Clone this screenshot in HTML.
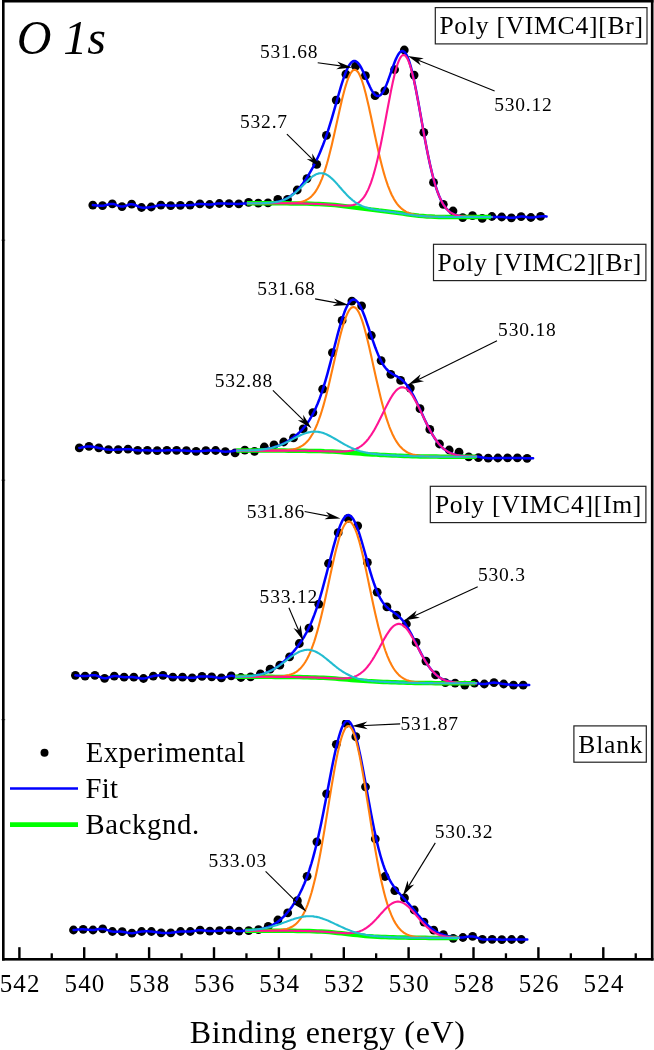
<!DOCTYPE html>
<html><head><meta charset="utf-8"><title>O 1s XPS</title><style>html,body{margin:0;padding:0;background:#fff}svg{display:block}</style></head><body>
<svg width="654" height="1050" viewBox="0 0 654 1050" font-family="'Liberation Serif', 'Times New Roman', serif" fill="#000">
<rect width="654" height="1050" fill="#fff"/>
<defs><clipPath id="c4"><rect x="0" y="719.9" width="654" height="240"/></clipPath></defs>
<g>
<g fill="#000"><circle cx="92.8" cy="205.1" r="4.4"/><circle cx="102.5" cy="205.7" r="4.4"/><circle cx="112.3" cy="203.9" r="4.4"/><circle cx="122.0" cy="206.6" r="4.4"/><circle cx="131.7" cy="204.2" r="4.4"/><circle cx="141.5" cy="207.5" r="4.4"/><circle cx="151.2" cy="207.0" r="4.4"/><circle cx="160.9" cy="205.1" r="4.4"/><circle cx="170.7" cy="205.7" r="4.4"/><circle cx="180.4" cy="205.3" r="4.4"/><circle cx="190.1" cy="205.1" r="4.4"/><circle cx="199.9" cy="203.9" r="4.4"/><circle cx="209.6" cy="204.5" r="4.4"/><circle cx="219.4" cy="203.5" r="4.4"/><circle cx="229.1" cy="203.7" r="4.4"/><circle cx="238.8" cy="203.9" r="4.4"/><circle cx="248.6" cy="202.3" r="4.4"/><circle cx="258.3" cy="203.2" r="4.4"/><circle cx="268.0" cy="202.9" r="4.4"/><circle cx="277.8" cy="199.4" r="4.4"/><circle cx="287.5" cy="199.4" r="4.4"/><circle cx="297.2" cy="190.0" r="4.4"/><circle cx="307.0" cy="178.6" r="4.4"/><circle cx="316.7" cy="164.3" r="4.4"/><circle cx="326.4" cy="135.3" r="4.4"/><circle cx="336.2" cy="100.1" r="4.4"/><circle cx="345.9" cy="74.2" r="4.4"/><circle cx="355.6" cy="66.2" r="4.4"/><circle cx="365.4" cy="75.7" r="4.4"/><circle cx="375.1" cy="95.7" r="4.4"/><circle cx="384.8" cy="90.8" r="4.4"/><circle cx="394.6" cy="69.6" r="4.4"/><circle cx="404.3" cy="50.0" r="4.4"/><circle cx="414.1" cy="75.1" r="4.4"/><circle cx="423.8" cy="132.3" r="4.4"/><circle cx="433.5" cy="182.4" r="4.4"/><circle cx="443.3" cy="204.3" r="4.4"/><circle cx="453.0" cy="211.0" r="4.4"/><circle cx="462.7" cy="217.6" r="4.4"/><circle cx="472.5" cy="215.7" r="4.4"/><circle cx="482.2" cy="218.4" r="4.4"/><circle cx="491.9" cy="216.5" r="4.4"/><circle cx="501.7" cy="217.0" r="4.4"/><circle cx="511.4" cy="217.8" r="4.4"/><circle cx="521.1" cy="216.6" r="4.4"/><circle cx="530.9" cy="217.5" r="4.4"/><circle cx="540.6" cy="216.4" r="4.4"/></g>
<path d="M92.8,205.1 L93.9,205.2 L95.3,205.3 L97.1,205.5 L98.9,205.7 L100.8,205.7 L102.5,205.7 L104.2,205.5 L105.8,205.1 L107.4,204.7 L109.0,204.3 L110.6,204.0 L112.3,203.9 L113.9,204.1 L115.5,204.7 L117.1,205.3 L118.8,205.9 L120.4,206.4 L122.0,206.6 L123.6,206.4 L125.2,206.0 L126.9,205.4 L128.5,204.8 L130.1,204.3 L131.7,204.2 L133.4,204.5 L135.0,205.0 L136.6,205.7 L138.2,206.5 L139.9,207.1 L141.5,207.5 L143.1,207.7 L144.7,207.7 L146.3,207.6 L148.0,207.4 L149.6,207.2 L151.2,207.0 L152.8,206.7 L154.5,206.4 L156.1,206.0 L157.7,205.6 L159.3,205.3 L160.9,205.1 L162.6,205.1 L164.2,205.2 L165.8,205.3 L167.4,205.5 L169.1,205.6 L170.7,205.7 L172.3,205.7 L173.9,205.6 L175.5,205.6 L177.2,205.5 L178.8,205.4 L180.4,205.3 L182.0,205.3 L183.7,205.3 L185.3,205.2 L186.9,205.2 L188.5,205.2 L190.1,205.1 L191.8,204.9 L193.4,204.7 L195.0,204.5 L196.6,204.2 L198.3,204.0 L199.9,203.9 L201.5,203.9 L203.1,204.0 L204.8,204.2 L206.4,204.3 L208.0,204.4 L209.6,204.5 L211.2,204.4 L212.9,204.2 L214.5,204.0 L216.1,203.8 L217.7,203.6 L219.4,203.5 L221.0,203.5 L222.6,203.5 L224.2,203.5 L225.8,203.6 L227.5,203.7 L229.1,203.7 L230.7,203.8 L232.4,203.8 L234.1,203.8 L235.7,203.9 L237.3,203.9 L238.8,203.9 L240.4,203.8 L241.9,203.7 L243.5,203.6 L244.9,203.5 L246.0,203.4 L246.9,203.3 L246.9,203.3 L247.9,203.3 L248.9,203.3 L249.9,203.3 L250.9,203.3 L251.9,203.3 L252.9,203.3 L253.9,203.3 L254.9,203.3 L255.9,203.3 L256.9,203.3 L257.9,203.2 L258.9,203.2 L259.9,203.2 L260.9,203.2 L261.9,203.2 L262.9,203.1 L263.9,203.1 L264.9,203.1 L265.9,203.0 L266.9,203.0 L267.9,202.9 L268.9,202.9 L269.9,202.8 L270.9,202.7 L271.9,202.6 L272.9,202.5 L273.9,202.4 L274.9,202.2 L275.9,202.1 L276.9,201.9 L277.9,201.7 L278.9,201.4 L279.9,201.2 L280.9,200.9 L281.9,200.6 L282.9,200.2 L283.9,199.8 L284.9,199.4 L285.9,198.9 L286.9,198.4 L287.9,197.8 L288.9,197.2 L289.9,196.6 L290.9,195.9 L291.9,195.1 L292.9,194.3 L293.9,193.5 L294.9,192.6 L295.9,191.6 L296.9,190.6 L297.9,189.5 L298.9,188.4 L299.9,187.2 L300.9,186.0 L301.9,184.7 L302.9,183.4 L303.9,182.0 L304.9,180.6 L305.9,179.1 L306.9,177.5 L307.9,176.0 L308.9,174.3 L309.9,172.6 L310.9,170.9 L311.9,169.1 L312.9,167.3 L313.9,165.4 L314.9,163.4 L315.9,161.4 L316.9,159.3 L317.9,157.2 L318.9,155.0 L319.9,152.7 L320.9,150.3 L321.9,147.8 L322.9,145.3 L323.9,142.6 L324.9,139.9 L325.9,137.0 L326.9,134.1 L327.9,131.1 L328.9,127.9 L329.9,124.7 L330.9,121.4 L331.9,118.1 L332.9,114.6 L333.9,111.2 L334.9,107.6 L335.9,104.1 L336.9,100.5 L337.9,97.0 L338.9,93.5 L339.9,90.1 L340.9,86.7 L341.9,83.4 L342.9,80.3 L343.9,77.4 L344.9,74.6 L345.9,72.0 L346.9,69.7 L347.9,67.5 L348.9,65.7 L349.9,64.2 L350.9,62.9 L351.9,62.0 L352.9,61.3 L353.9,61.0 L354.9,61.0 L355.9,61.4 L356.9,62.0 L357.9,62.9 L358.9,64.1 L359.9,65.5 L360.9,67.2 L361.9,69.1 L362.9,71.1 L363.9,73.2 L364.9,75.5 L365.9,77.8 L366.9,80.1 L367.9,82.4 L368.9,84.6 L369.9,86.8 L370.9,88.8 L371.9,90.6 L372.9,92.2 L373.9,93.6 L374.9,94.7 L375.9,95.5 L376.9,96.0 L377.9,96.1 L378.9,96.0 L379.9,95.5 L380.9,94.7 L381.9,93.5 L382.9,92.1 L383.9,90.3 L384.9,88.3 L385.9,86.1 L386.9,83.6 L387.9,81.0 L388.9,78.2 L389.9,75.4 L390.9,72.5 L391.9,69.6 L392.9,66.8 L393.9,64.1 L394.9,61.5 L395.9,59.1 L396.9,57.0 L397.9,55.1 L398.9,53.5 L399.9,52.3 L400.9,51.5 L401.9,51.1 L402.9,51.1 L403.9,51.6 L404.9,52.5 L405.9,53.8 L406.9,55.6 L407.9,57.9 L408.9,60.5 L409.9,63.6 L410.9,67.1 L411.9,71.0 L412.9,75.2 L413.9,79.7 L414.9,84.5 L415.9,89.5 L416.9,94.7 L417.9,100.1 L418.9,105.5 L419.9,111.1 L420.9,116.7 L421.9,122.4 L422.9,127.9 L423.9,133.5 L424.9,138.9 L425.9,144.2 L426.9,149.4 L427.9,154.4 L428.9,159.3 L429.9,163.9 L430.9,168.3 L431.9,172.5 L432.9,176.5 L433.9,180.2 L434.9,183.7 L435.9,187.0 L436.9,190.0 L437.9,192.8 L438.9,195.4 L439.9,197.7 L440.9,199.9 L441.9,201.9 L442.9,203.7 L443.9,205.3 L444.9,206.7 L445.9,208.0 L446.9,209.2 L447.9,210.2 L448.9,211.1 L449.9,212.0 L450.9,212.7 L451.9,213.3 L452.9,213.8 L453.9,214.3 L454.9,214.7 L455.9,215.1 L456.9,215.4 L457.9,215.6 L458.9,215.9 L459.9,216.0 L460.9,216.2 L461.9,216.3 L462.9,216.5 L463.9,216.6 L464.9,216.6 L465.9,216.7 L466.9,216.8 L467.9,216.8 L468.9,216.8 L469.9,216.9 L470.9,216.9 L471.9,216.9 L472.9,216.9 L473.9,216.9 L474.9,217.0 L475.9,217.0 L476.9,217.0 L477.9,217.0 L478.9,217.0 L479.9,217.0 L480.9,217.0 L481.9,217.0 L482.9,217.0 L483.9,217.0 L484.9,217.0 L485.9,217.0 L486.9,217.0 L487.9,217.0 L488.9,217.0 L489.9,217.0 L490.9,217.0 L491.9,217.0 L492.5,217.0 L492.5,217.0 L493.5,217.0 L494.9,217.0 L496.5,216.9 L498.2,216.9 L500.0,216.9 L501.7,217.0 L503.3,217.1 L504.9,217.3 L506.5,217.4 L508.1,217.6 L509.8,217.8 L511.4,217.8 L513.0,217.7 L514.6,217.4 L516.3,217.2 L517.9,216.9 L519.5,216.7 L521.1,216.6 L522.8,216.6 L524.4,216.8 L526.0,217.0 L527.6,217.3 L529.3,217.5 L530.9,217.5 L532.5,217.5 L534.3,217.3 L536.0,217.0 L537.6,216.8 L539.2,216.5 L540.6,216.4 L541.9,216.3 L543.1,216.3 L544.2,216.3 L545.2,216.3 L546.0,216.4 L546.6,216.4" fill="none" stroke="#0000ff" stroke-width="2.5" stroke-linejoin="round" stroke-linecap="round"/>
<path d="M246.9,203.3 L250.9,203.3 L254.9,203.3 L258.9,203.3 L262.9,203.3 L266.9,203.3 L270.9,203.3 L274.9,203.3 L278.9,203.3 L282.9,203.3 L286.9,203.3 L290.9,203.4 L294.9,203.4 L298.9,203.4 L302.9,203.5 L306.9,203.6 L310.9,203.7 L314.9,203.9 L318.9,204.0 L322.9,204.2 L326.9,204.5 L330.9,204.8 L334.9,205.1 L338.9,205.5 L342.9,206.0 L346.9,206.5 L350.9,207.0 L354.9,207.6 L358.9,208.1 L362.9,208.6 L366.9,209.1 L370.9,209.6 L374.9,210.0 L378.9,210.5 L382.9,210.9 L386.9,211.4 L390.9,211.9 L394.9,212.4 L398.9,213.0 L402.9,213.6 L406.9,214.2 L410.9,214.8 L414.9,215.3 L418.9,215.8 L422.9,216.1 L426.9,216.4 L430.9,216.6 L434.9,216.8 L438.9,216.9 L442.9,216.9 L446.9,217.0 L450.9,217.0 L454.9,217.0 L458.9,217.0 L462.9,217.0 L466.9,217.0 L470.9,217.0 L474.9,217.0 L478.9,217.0 L482.9,217.0 L486.9,217.0 L490.9,217.0" fill="none" stroke="#00ff00" stroke-width="4.5"/>
<path d="M246.9,203.3 L247.9,203.3 L248.9,203.3 L249.9,203.3 L250.9,203.3 L251.9,203.3 L252.9,203.3 L253.9,203.3 L254.9,203.3 L255.9,203.3 L256.9,203.3 L257.9,203.3 L258.9,203.3 L259.9,203.3 L260.9,203.3 L261.9,203.3 L262.9,203.3 L263.9,203.3 L264.9,203.3 L265.9,203.3 L266.9,203.3 L267.9,203.3 L268.9,203.3 L269.9,203.3 L270.9,203.3 L271.9,203.3 L272.9,203.3 L273.9,203.3 L274.9,203.3 L275.9,203.3 L276.9,203.3 L277.9,203.3 L278.9,203.3 L279.9,203.3 L280.9,203.3 L281.9,203.3 L282.9,203.3 L283.9,203.3 L284.9,203.3 L285.9,203.2 L286.9,203.2 L287.9,203.2 L288.9,203.2 L289.9,203.2 L290.9,203.1 L291.9,203.1 L292.9,203.0 L293.9,203.0 L294.9,202.9 L295.9,202.8 L296.9,202.7 L297.9,202.5 L298.9,202.4 L299.9,202.2 L300.9,202.0 L301.9,201.7 L302.9,201.4 L303.9,201.1 L304.9,200.7 L305.9,200.2 L306.9,199.7 L307.9,199.1 L308.9,198.5 L309.9,197.7 L310.9,196.9 L311.9,195.9 L312.9,194.8 L313.9,193.7 L314.9,192.3 L315.9,190.9 L316.9,189.3 L317.9,187.5 L318.9,185.6 L319.9,183.5 L320.9,181.2 L321.9,178.8 L322.9,176.1 L323.9,173.3 L324.9,170.3 L325.9,167.1 L326.9,163.8 L327.9,160.2 L328.9,156.5 L329.9,152.6 L330.9,148.6 L331.9,144.4 L332.9,140.1 L333.9,135.7 L334.9,131.3 L335.9,126.8 L336.9,122.2 L337.9,117.7 L338.9,113.2 L339.9,108.7 L340.9,104.4 L341.9,100.1 L342.9,96.1 L343.9,92.2 L344.9,88.5 L345.9,85.1 L346.9,82.0 L347.9,79.1 L348.9,76.7 L349.9,74.5 L350.9,72.8 L351.9,71.4 L352.9,70.4 L353.9,69.9 L354.9,69.8 L355.9,70.1 L356.9,70.8 L357.9,72.0 L358.9,73.5 L359.9,75.5 L360.9,77.8 L361.9,80.5 L362.9,83.5 L363.9,86.8 L364.9,90.5 L365.9,94.3 L366.9,98.4 L367.9,102.7 L368.9,107.1 L369.9,111.7 L370.9,116.3 L371.9,121.0 L372.9,125.8 L373.9,130.5 L374.9,135.3 L375.9,139.9 L376.9,144.5 L377.9,149.0 L378.9,153.4 L379.9,157.7 L380.9,161.8 L381.9,165.7 L382.9,169.5 L383.9,173.1 L384.9,176.5 L385.9,179.7 L386.9,182.7 L387.9,185.6 L388.9,188.2 L389.9,190.7 L390.9,193.0 L391.9,195.2 L392.9,197.1 L393.9,199.0 L394.9,200.6 L395.9,202.2 L396.9,203.6 L397.9,204.8 L398.9,206.0 L399.9,207.0 L400.9,208.0 L401.9,208.9 L402.9,209.6 L403.9,210.3 L404.9,211.0 L405.9,211.6 L406.9,212.1 L407.9,212.5 L408.9,213.0 L409.9,213.4 L410.9,213.7 L411.9,214.0 L412.9,214.3 L413.9,214.6 L414.9,214.8 L415.9,215.0 L416.9,215.2 L417.9,215.4 L418.9,215.5 L419.9,215.7 L420.9,215.8 L421.9,215.9 L422.9,216.0 L423.9,216.1 L424.9,216.2 L425.9,216.3 L426.9,216.4 L427.9,216.4 L428.9,216.5 L429.9,216.6 L430.9,216.6 L431.9,216.6 L432.9,216.7 L433.9,216.7 L434.9,216.8 L435.9,216.8 L436.9,216.8 L437.9,216.8 L438.9,216.9 L439.9,216.9 L440.9,216.9 L441.9,216.9 L442.9,216.9 L443.9,216.9 L444.9,216.9 L445.9,217.0 L446.9,217.0 L447.9,217.0 L448.9,217.0 L449.9,217.0 L450.9,217.0 L451.9,217.0 L452.9,217.0 L453.9,217.0 L454.9,217.0 L455.9,217.0 L456.9,217.0 L457.9,217.0 L458.9,217.0 L459.9,217.0 L460.9,217.0 L461.9,217.0 L462.9,217.0 L463.9,217.0 L464.9,217.0 L465.9,217.0 L466.9,217.0 L467.9,217.0 L468.9,217.0 L469.9,217.0 L470.9,217.0 L471.9,217.0 L472.9,217.0 L473.9,217.0 L474.9,217.0 L475.9,217.0 L476.9,217.0 L477.9,217.0 L478.9,217.0 L479.9,217.0 L480.9,217.0 L481.9,217.0 L482.9,217.0 L483.9,217.0 L484.9,217.0 L485.9,217.0 L486.9,217.0 L487.9,217.0 L488.9,217.0 L489.9,217.0 L490.9,217.0 L491.9,217.0 L492.5,217.0" fill="none" stroke="#ff7f0e" stroke-width="2.1"/>
<path d="M246.9,203.3 L247.9,203.3 L248.9,203.3 L249.9,203.3 L250.9,203.3 L251.9,203.3 L252.9,203.3 L253.9,203.3 L254.9,203.3 L255.9,203.3 L256.9,203.3 L257.9,203.3 L258.9,203.3 L259.9,203.3 L260.9,203.3 L261.9,203.3 L262.9,203.3 L263.9,203.3 L264.9,203.3 L265.9,203.3 L266.9,203.3 L267.9,203.3 L268.9,203.3 L269.9,203.3 L270.9,203.3 L271.9,203.3 L272.9,203.3 L273.9,203.3 L274.9,203.3 L275.9,203.3 L276.9,203.3 L277.9,203.3 L278.9,203.3 L279.9,203.3 L280.9,203.3 L281.9,203.3 L282.9,203.3 L283.9,203.3 L284.9,203.3 L285.9,203.3 L286.9,203.3 L287.9,203.3 L288.9,203.3 L289.9,203.4 L290.9,203.4 L291.9,203.4 L292.9,203.4 L293.9,203.4 L294.9,203.4 L295.9,203.4 L296.9,203.4 L297.9,203.4 L298.9,203.4 L299.9,203.5 L300.9,203.5 L301.9,203.5 L302.9,203.5 L303.9,203.5 L304.9,203.6 L305.9,203.6 L306.9,203.6 L307.9,203.6 L308.9,203.7 L309.9,203.7 L310.9,203.7 L311.9,203.8 L312.9,203.8 L313.9,203.8 L314.9,203.9 L315.9,203.9 L316.9,203.9 L317.9,204.0 L318.9,204.0 L319.9,204.1 L320.9,204.1 L321.9,204.2 L322.9,204.2 L323.9,204.3 L324.9,204.4 L325.9,204.4 L326.9,204.5 L327.9,204.5 L328.9,204.6 L329.9,204.7 L330.9,204.8 L331.9,204.8 L332.9,204.9 L333.9,205.0 L334.9,205.1 L335.9,205.1 L336.9,205.2 L337.9,205.3 L338.9,205.4 L339.9,205.4 L340.9,205.5 L341.9,205.6 L342.9,205.6 L343.9,205.7 L344.9,205.7 L345.9,205.7 L346.9,205.7 L347.9,205.7 L348.9,205.6 L349.9,205.5 L350.9,205.4 L351.9,205.2 L352.9,205.0 L353.9,204.7 L354.9,204.4 L355.9,204.0 L356.9,203.5 L357.9,203.0 L358.9,202.3 L359.9,201.5 L360.9,200.6 L361.9,199.6 L362.9,198.4 L363.9,197.1 L364.9,195.6 L365.9,194.0 L366.9,192.1 L367.9,190.1 L368.9,187.9 L369.9,185.4 L370.9,182.8 L371.9,179.9 L372.9,176.8 L373.9,173.4 L374.9,169.8 L375.9,166.0 L376.9,162.0 L377.9,157.7 L378.9,153.2 L379.9,148.6 L380.9,143.7 L381.9,138.7 L382.9,133.6 L383.9,128.4 L384.9,123.1 L385.9,117.7 L386.9,112.3 L387.9,107.0 L388.9,101.7 L389.9,96.5 L390.9,91.4 L391.9,86.5 L392.9,81.8 L393.9,77.4 L394.9,73.3 L395.9,69.5 L396.9,66.1 L397.9,63.2 L398.9,60.6 L399.9,58.5 L400.9,56.9 L401.9,55.7 L402.9,55.1 L403.9,55.0 L404.9,55.4 L405.9,56.3 L406.9,57.8 L407.9,59.7 L408.9,62.1 L409.9,64.9 L410.9,68.2 L411.9,71.9 L412.9,76.0 L413.9,80.3 L414.9,85.0 L415.9,89.9 L416.9,95.1 L417.9,100.4 L418.9,105.8 L419.9,111.3 L420.9,116.9 L421.9,122.5 L422.9,128.1 L423.9,133.6 L424.9,139.0 L425.9,144.3 L426.9,149.5 L427.9,154.5 L428.9,159.3 L429.9,163.9 L430.9,168.3 L431.9,172.5 L432.9,176.5 L433.9,180.2 L434.9,183.7 L435.9,187.0 L436.9,190.0 L437.9,192.8 L438.9,195.4 L439.9,197.7 L440.9,199.9 L441.9,201.9 L442.9,203.7 L443.9,205.3 L444.9,206.7 L445.9,208.0 L446.9,209.2 L447.9,210.2 L448.9,211.1 L449.9,212.0 L450.9,212.7 L451.9,213.3 L452.9,213.8 L453.9,214.3 L454.9,214.7 L455.9,215.1 L456.9,215.4 L457.9,215.6 L458.9,215.9 L459.9,216.0 L460.9,216.2 L461.9,216.3 L462.9,216.5 L463.9,216.6 L464.9,216.6 L465.9,216.7 L466.9,216.8 L467.9,216.8 L468.9,216.8 L469.9,216.9 L470.9,216.9 L471.9,216.9 L472.9,216.9 L473.9,216.9 L474.9,217.0 L475.9,217.0 L476.9,217.0 L477.9,217.0 L478.9,217.0 L479.9,217.0 L480.9,217.0 L481.9,217.0 L482.9,217.0 L483.9,217.0 L484.9,217.0 L485.9,217.0 L486.9,217.0 L487.9,217.0 L488.9,217.0 L489.9,217.0 L490.9,217.0 L491.9,217.0 L492.5,217.0" fill="none" stroke="#ff1493" stroke-width="2.1"/>
<path d="M246.9,203.3 L247.9,203.3 L248.9,203.3 L249.9,203.3 L250.9,203.3 L251.9,203.3 L252.9,203.3 L253.9,203.3 L254.9,203.3 L255.9,203.3 L256.9,203.3 L257.9,203.2 L258.9,203.2 L259.9,203.2 L260.9,203.2 L261.9,203.2 L262.9,203.1 L263.9,203.1 L264.9,203.1 L265.9,203.0 L266.9,203.0 L267.9,202.9 L268.9,202.9 L269.9,202.8 L270.9,202.7 L271.9,202.6 L272.9,202.5 L273.9,202.4 L274.9,202.2 L275.9,202.1 L276.9,201.9 L277.9,201.7 L278.9,201.5 L279.9,201.2 L280.9,200.9 L281.9,200.6 L282.9,200.3 L283.9,199.9 L284.9,199.5 L285.9,199.0 L286.9,198.5 L287.9,198.0 L288.9,197.4 L289.9,196.8 L290.9,196.1 L291.9,195.4 L292.9,194.7 L293.9,193.9 L294.9,193.1 L295.9,192.2 L296.9,191.3 L297.9,190.4 L298.9,189.5 L299.9,188.5 L300.9,187.5 L301.9,186.5 L302.9,185.5 L303.9,184.4 L304.9,183.4 L305.9,182.4 L306.9,181.4 L307.9,180.5 L308.9,179.5 L309.9,178.6 L310.9,177.8 L311.9,177.0 L312.9,176.2 L313.9,175.6 L314.9,175.0 L315.9,174.4 L316.9,174.0 L317.9,173.7 L318.9,173.4 L319.9,173.3 L320.9,173.2 L321.9,173.2 L322.9,173.4 L323.9,173.6 L324.9,173.9 L325.9,174.3 L326.9,174.8 L327.9,175.4 L328.9,176.1 L329.9,176.9 L330.9,177.7 L331.9,178.6 L332.9,179.5 L333.9,180.5 L334.9,181.6 L335.9,182.6 L336.9,183.7 L337.9,184.9 L338.9,186.0 L339.9,187.2 L340.9,188.3 L341.9,189.5 L342.9,190.6 L343.9,191.7 L344.9,192.8 L345.9,193.9 L346.9,195.0 L347.9,196.0 L348.9,196.9 L349.9,197.9 L350.9,198.8 L351.9,199.6 L352.9,200.5 L353.9,201.2 L354.9,202.0 L355.9,202.7 L356.9,203.3 L357.9,203.9 L358.9,204.5 L359.9,205.0 L360.9,205.5 L361.9,206.0 L362.9,206.4 L363.9,206.8 L364.9,207.2 L365.9,207.5 L366.9,207.8 L367.9,208.1 L368.9,208.4 L369.9,208.6 L370.9,208.9 L371.9,209.1 L372.9,209.3 L373.9,209.5 L374.9,209.7 L375.9,209.8 L376.9,210.0 L377.9,210.1 L378.9,210.3 L379.9,210.4 L380.9,210.6 L381.9,210.7 L382.9,210.8 L383.9,210.9 L384.9,211.1 L385.9,211.2 L386.9,211.3 L387.9,211.5 L388.9,211.6 L389.9,211.7 L390.9,211.9 L391.9,212.0 L392.9,212.1 L393.9,212.3 L394.9,212.4 L395.9,212.6 L396.9,212.7 L397.9,212.9 L398.9,213.0 L399.9,213.2 L400.9,213.3 L401.9,213.5 L402.9,213.6 L403.9,213.8 L404.9,213.9 L405.9,214.1 L406.9,214.2 L407.9,214.4 L408.9,214.5 L409.9,214.7 L410.9,214.8 L411.9,214.9 L412.9,215.1 L413.9,215.2 L414.9,215.3 L415.9,215.4 L416.9,215.6 L417.9,215.7 L418.9,215.8 L419.9,215.9 L420.9,216.0 L421.9,216.0 L422.9,216.1 L423.9,216.2 L424.9,216.3 L425.9,216.4 L426.9,216.4 L427.9,216.5 L428.9,216.5 L429.9,216.6 L430.9,216.6 L431.9,216.7 L432.9,216.7 L433.9,216.7 L434.9,216.8 L435.9,216.8 L436.9,216.8 L437.9,216.8 L438.9,216.9 L439.9,216.9 L440.9,216.9 L441.9,216.9 L442.9,216.9 L443.9,216.9 L444.9,216.9 L445.9,217.0 L446.9,217.0 L447.9,217.0 L448.9,217.0 L449.9,217.0 L450.9,217.0 L451.9,217.0 L452.9,217.0 L453.9,217.0 L454.9,217.0 L455.9,217.0 L456.9,217.0 L457.9,217.0 L458.9,217.0 L459.9,217.0 L460.9,217.0 L461.9,217.0 L462.9,217.0 L463.9,217.0 L464.9,217.0 L465.9,217.0 L466.9,217.0 L467.9,217.0 L468.9,217.0 L469.9,217.0 L470.9,217.0 L471.9,217.0 L472.9,217.0 L473.9,217.0 L474.9,217.0 L475.9,217.0 L476.9,217.0 L477.9,217.0 L478.9,217.0 L479.9,217.0 L480.9,217.0 L481.9,217.0 L482.9,217.0 L483.9,217.0 L484.9,217.0 L485.9,217.0 L486.9,217.0 L487.9,217.0 L488.9,217.0 L489.9,217.0 L490.9,217.0 L491.9,217.0 L492.5,217.0" fill="none" stroke="#22bcd0" stroke-width="2.1"/>
</g>
<g>
<g fill="#000"><circle cx="79.3" cy="447.9" r="4.4"/><circle cx="89.0" cy="446.4" r="4.4"/><circle cx="98.8" cy="447.9" r="4.4"/><circle cx="108.5" cy="449.6" r="4.4"/><circle cx="118.2" cy="449.6" r="4.4"/><circle cx="128.0" cy="449.2" r="4.4"/><circle cx="137.7" cy="450.3" r="4.4"/><circle cx="147.4" cy="450.3" r="4.4"/><circle cx="157.2" cy="450.7" r="4.4"/><circle cx="166.9" cy="450.3" r="4.4"/><circle cx="176.6" cy="450.3" r="4.4"/><circle cx="186.4" cy="450.7" r="4.4"/><circle cx="196.1" cy="451.3" r="4.4"/><circle cx="205.9" cy="450.7" r="4.4"/><circle cx="215.6" cy="450.5" r="4.4"/><circle cx="225.3" cy="451.7" r="4.4"/><circle cx="235.1" cy="452.9" r="4.4"/><circle cx="244.8" cy="450.1" r="4.4"/><circle cx="254.5" cy="451.3" r="4.4"/><circle cx="264.3" cy="447.0" r="4.4"/><circle cx="274.0" cy="444.8" r="4.4"/><circle cx="283.7" cy="442.0" r="4.4"/><circle cx="293.5" cy="437.9" r="4.4"/><circle cx="303.2" cy="428.8" r="4.4"/><circle cx="312.9" cy="412.6" r="4.4"/><circle cx="322.7" cy="389.2" r="4.4"/><circle cx="332.4" cy="352.6" r="4.4"/><circle cx="342.1" cy="320.4" r="4.4"/><circle cx="351.9" cy="301.1" r="4.4"/><circle cx="361.6" cy="305.8" r="4.4"/><circle cx="371.3" cy="335.5" r="4.4"/><circle cx="381.1" cy="360.6" r="4.4"/><circle cx="390.8" cy="374.3" r="4.4"/><circle cx="400.6" cy="380.4" r="4.4"/><circle cx="410.3" cy="388.1" r="4.4"/><circle cx="420.0" cy="408.7" r="4.4"/><circle cx="429.8" cy="429.4" r="4.4"/><circle cx="439.5" cy="444.0" r="4.4"/><circle cx="449.2" cy="450.0" r="4.4"/><circle cx="459.0" cy="452.2" r="4.4"/><circle cx="468.7" cy="456.9" r="4.4"/><circle cx="478.4" cy="457.7" r="4.4"/><circle cx="488.2" cy="458.2" r="4.4"/><circle cx="497.9" cy="458.0" r="4.4"/><circle cx="507.6" cy="457.9" r="4.4"/><circle cx="517.4" cy="457.9" r="4.4"/><circle cx="527.1" cy="458.3" r="4.4"/></g>
<path d="M79.3,447.9 L80.4,447.7 L81.8,447.4 L83.6,447.1 L85.4,446.7 L87.3,446.5 L89.0,446.4 L90.7,446.5 L92.3,446.7 L93.9,446.9 L95.5,447.3 L97.1,447.6 L98.8,447.9 L100.4,448.2 L102.0,448.5 L103.6,448.8 L105.3,449.2 L106.9,449.4 L108.5,449.6 L110.1,449.7 L111.8,449.7 L113.4,449.7 L115.0,449.7 L116.6,449.6 L118.2,449.6 L119.9,449.5 L121.5,449.4 L123.1,449.3 L124.7,449.2 L126.4,449.2 L128.0,449.2 L129.6,449.3 L131.2,449.5 L132.8,449.7 L134.5,450.0 L136.1,450.2 L137.7,450.3 L139.3,450.4 L141.0,450.4 L142.6,450.3 L144.2,450.3 L145.8,450.3 L147.4,450.3 L149.1,450.4 L150.7,450.4 L152.3,450.5 L153.9,450.6 L155.6,450.7 L157.2,450.7 L158.8,450.7 L160.4,450.6 L162.0,450.5 L163.7,450.4 L165.3,450.4 L166.9,450.3 L168.5,450.3 L170.2,450.3 L171.8,450.3 L173.4,450.3 L175.0,450.3 L176.6,450.3 L178.3,450.3 L179.9,450.4 L181.5,450.5 L183.1,450.5 L184.8,450.6 L186.4,450.7 L188.0,450.8 L189.6,450.9 L191.3,451.1 L192.9,451.2 L194.5,451.3 L196.1,451.3 L197.7,451.3 L199.4,451.2 L201.0,451.1 L202.6,450.9 L204.2,450.8 L205.9,450.7 L207.5,450.6 L209.1,450.5 L210.7,450.5 L212.3,450.4 L214.0,450.4 L215.6,450.5 L217.2,450.6 L218.8,450.8 L220.4,451.1 L222.0,451.4 L223.6,451.6 L225.3,451.7 L227.2,451.6 L229.3,451.4 L231.5,451.2 L233.5,450.9 L235.2,450.7 L236.4,450.6 L236.4,450.6 L237.4,450.6 L238.4,450.6 L239.4,450.5 L240.4,450.5 L241.4,450.5 L242.4,450.5 L243.4,450.5 L244.4,450.5 L245.4,450.5 L246.4,450.5 L247.4,450.4 L248.4,450.4 L249.4,450.4 L250.4,450.3 L251.4,450.3 L252.4,450.3 L253.4,450.2 L254.4,450.2 L255.4,450.1 L256.4,450.1 L257.4,450.0 L258.4,449.9 L259.4,449.8 L260.4,449.7 L261.4,449.6 L262.4,449.5 L263.4,449.4 L264.4,449.3 L265.4,449.1 L266.4,448.9 L267.4,448.8 L268.4,448.6 L269.4,448.4 L270.4,448.2 L271.4,447.9 L272.4,447.7 L273.4,447.4 L274.4,447.1 L275.4,446.8 L276.4,446.5 L277.4,446.1 L278.4,445.7 L279.4,445.3 L280.4,444.9 L281.4,444.5 L282.4,444.0 L283.4,443.6 L284.4,443.0 L285.4,442.5 L286.4,442.0 L287.4,441.4 L288.4,440.8 L289.4,440.2 L290.4,439.5 L291.4,438.8 L292.4,438.1 L293.4,437.4 L294.4,436.6 L295.4,435.8 L296.4,435.0 L297.4,434.2 L298.4,433.3 L299.4,432.3 L300.4,431.3 L301.4,430.3 L302.4,429.3 L303.4,428.1 L304.4,427.0 L305.4,425.7 L306.4,424.4 L307.4,423.0 L308.4,421.6 L309.4,420.1 L310.4,418.4 L311.4,416.7 L312.4,414.9 L313.4,413.0 L314.4,411.0 L315.4,408.9 L316.4,406.6 L317.4,404.3 L318.4,401.8 L319.4,399.2 L320.4,396.4 L321.4,393.6 L322.4,390.6 L323.4,387.5 L324.4,384.2 L325.4,380.9 L326.4,377.4 L327.4,373.8 L328.4,370.2 L329.4,366.4 L330.4,362.6 L331.4,358.7 L332.4,354.8 L333.4,350.9 L334.4,347.0 L335.4,343.1 L336.4,339.2 L337.4,335.4 L338.4,331.7 L339.4,328.1 L340.4,324.6 L341.4,321.2 L342.4,318.0 L343.4,315.1 L344.4,312.3 L345.4,309.8 L346.4,307.5 L347.4,305.4 L348.4,303.7 L349.4,302.3 L350.4,301.1 L351.4,300.3 L352.4,299.8 L353.4,299.6 L354.4,299.7 L355.4,300.1 L356.4,300.8 L357.4,301.8 L358.4,303.1 L359.4,304.7 L360.4,306.5 L361.4,308.5 L362.4,310.8 L363.4,313.2 L364.4,315.8 L365.4,318.5 L366.4,321.3 L367.4,324.3 L368.4,327.2 L369.4,330.3 L370.4,333.3 L371.4,336.3 L372.4,339.3 L373.4,342.2 L374.4,345.0 L375.4,347.8 L376.4,350.4 L377.4,352.9 L378.4,355.3 L379.4,357.5 L380.4,359.6 L381.4,361.6 L382.4,363.3 L383.4,365.0 L384.4,366.4 L385.4,367.8 L386.4,369.0 L387.4,370.0 L388.4,371.0 L389.4,371.9 L390.4,372.6 L391.4,373.3 L392.4,373.9 L393.4,374.5 L394.4,375.1 L395.4,375.6 L396.4,376.2 L397.4,376.7 L398.4,377.3 L399.4,378.0 L400.4,378.7 L401.4,379.4 L402.4,380.3 L403.4,381.2 L404.4,382.2 L405.4,383.3 L406.4,384.5 L407.4,385.8 L408.4,387.2 L409.4,388.7 L410.4,390.3 L411.4,392.0 L412.4,393.8 L413.4,395.6 L414.4,397.6 L415.4,399.5 L416.4,401.6 L417.4,403.7 L418.4,405.8 L419.4,408.0 L420.4,410.2 L421.4,412.3 L422.4,414.5 L423.4,416.7 L424.4,418.9 L425.4,421.0 L426.4,423.1 L427.4,425.1 L428.4,427.1 L429.4,429.0 L430.4,430.9 L431.4,432.7 L432.4,434.5 L433.4,436.1 L434.4,437.7 L435.4,439.2 L436.4,440.6 L437.4,442.0 L438.4,443.3 L439.4,444.5 L440.4,445.6 L441.4,446.6 L442.4,447.6 L443.4,448.5 L444.4,449.3 L445.4,450.0 L446.4,450.7 L447.4,451.4 L448.4,452.0 L449.4,452.5 L450.4,453.0 L451.4,453.4 L452.4,453.8 L453.4,454.1 L454.4,454.5 L455.4,454.7 L456.4,455.0 L457.4,455.2 L458.4,455.4 L459.4,455.6 L460.4,455.7 L461.4,455.9 L462.4,456.0 L463.4,456.1 L464.4,456.2 L465.4,456.3 L466.4,456.3 L467.4,456.4 L468.4,456.4 L469.4,456.5 L470.4,456.5 L471.4,456.5 L472.4,456.6 L473.4,456.6 L474.4,456.6 L475.4,456.6 L476.4,456.6 L477.1,456.6 L477.1,456.6 L478.3,456.8 L480.0,457.1 L482.0,457.4 L484.2,457.8 L486.3,458.0 L488.2,458.2 L489.9,458.3 L491.5,458.3 L493.1,458.2 L494.7,458.1 L496.3,458.1 L497.9,458.0 L499.5,458.0 L501.1,457.9 L502.8,457.9 L504.4,457.9 L506.0,457.9 L507.6,457.9 L509.3,457.9 L510.9,457.9 L512.5,457.9 L514.1,457.9 L515.8,457.9 L517.4,457.9 L519.0,458.0 L520.8,458.0 L522.5,458.1 L524.1,458.2 L525.7,458.2 L527.1,458.3 L528.4,458.3 L529.6,458.3 L530.7,458.3 L531.7,458.3 L532.5,458.3 L533.1,458.3" fill="none" stroke="#0000ff" stroke-width="2.5" stroke-linejoin="round" stroke-linecap="round"/>
<path d="M236.4,450.6 L240.4,450.6 L244.4,450.6 L248.4,450.6 L252.4,450.6 L256.4,450.6 L260.4,450.6 L264.4,450.6 L268.4,450.6 L272.4,450.6 L276.4,450.6 L280.4,450.6 L284.4,450.6 L288.4,450.7 L292.4,450.7 L296.4,450.7 L300.4,450.8 L304.4,450.8 L308.4,450.9 L312.4,450.9 L316.4,451.0 L320.4,451.1 L324.4,451.3 L328.4,451.4 L332.4,451.6 L336.4,451.8 L340.4,452.1 L344.4,452.4 L348.4,452.7 L352.4,453.0 L356.4,453.3 L360.4,453.6 L364.4,453.9 L368.4,454.2 L372.4,454.4 L376.4,454.6 L380.4,454.9 L384.4,455.0 L388.4,455.2 L392.4,455.4 L396.4,455.6 L400.4,455.7 L404.4,455.9 L408.4,456.0 L412.4,456.2 L416.4,456.3 L420.4,456.4 L424.4,456.5 L428.4,456.5 L432.4,456.6 L436.4,456.6 L440.4,456.7 L444.4,456.7 L448.4,456.7 L452.4,456.7 L456.4,456.7 L460.4,456.7 L464.4,456.7 L468.4,456.7 L472.4,456.7 L476.4,456.7" fill="none" stroke="#00ff00" stroke-width="4.5"/>
<path d="M236.4,450.6 L237.4,450.6 L238.4,450.6 L239.4,450.6 L240.4,450.6 L241.4,450.6 L242.4,450.6 L243.4,450.6 L244.4,450.6 L245.4,450.6 L246.4,450.6 L247.4,450.6 L248.4,450.6 L249.4,450.6 L250.4,450.6 L251.4,450.6 L252.4,450.6 L253.4,450.6 L254.4,450.6 L255.4,450.6 L256.4,450.6 L257.4,450.6 L258.4,450.6 L259.4,450.6 L260.4,450.6 L261.4,450.6 L262.4,450.6 L263.4,450.6 L264.4,450.6 L265.4,450.6 L266.4,450.6 L267.4,450.6 L268.4,450.6 L269.4,450.6 L270.4,450.6 L271.4,450.6 L272.4,450.6 L273.4,450.6 L274.4,450.6 L275.4,450.6 L276.4,450.5 L277.4,450.5 L278.4,450.5 L279.4,450.5 L280.4,450.5 L281.4,450.4 L282.4,450.4 L283.4,450.4 L284.4,450.3 L285.4,450.3 L286.4,450.2 L287.4,450.1 L288.4,450.0 L289.4,449.9 L290.4,449.8 L291.4,449.6 L292.4,449.5 L293.4,449.3 L294.4,449.0 L295.4,448.8 L296.4,448.5 L297.4,448.1 L298.4,447.7 L299.4,447.3 L300.4,446.8 L301.4,446.2 L302.4,445.6 L303.4,444.9 L304.4,444.1 L305.4,443.3 L306.4,442.3 L307.4,441.2 L308.4,440.1 L309.4,438.8 L310.4,437.4 L311.4,435.8 L312.4,434.2 L313.4,432.4 L314.4,430.4 L315.4,428.3 L316.4,426.0 L317.4,423.6 L318.4,421.0 L319.4,418.2 L320.4,415.3 L321.4,412.2 L322.4,409.0 L323.4,405.6 L324.4,402.0 L325.4,398.3 L326.4,394.5 L327.4,390.5 L328.4,386.4 L329.4,382.2 L330.4,378.0 L331.4,373.6 L332.4,369.3 L333.4,364.8 L334.4,360.4 L335.4,356.0 L336.4,351.7 L337.4,347.4 L338.4,343.2 L339.4,339.1 L340.4,335.1 L341.4,331.3 L342.4,327.7 L343.4,324.4 L344.4,321.2 L345.4,318.4 L346.4,315.8 L347.4,313.5 L348.4,311.5 L349.4,309.9 L350.4,308.6 L351.4,307.7 L352.4,307.2 L353.4,307.0 L354.4,307.2 L355.4,307.7 L356.4,308.7 L357.4,310.0 L358.4,311.6 L359.4,313.6 L360.4,315.9 L361.4,318.5 L362.4,321.4 L363.4,324.6 L364.4,328.0 L365.4,331.7 L366.4,335.5 L367.4,339.5 L368.4,343.7 L369.4,348.0 L370.4,352.4 L371.4,356.8 L372.4,361.4 L373.4,365.9 L374.4,370.4 L375.4,374.9 L376.4,379.4 L377.4,383.8 L378.4,388.1 L379.4,392.3 L380.4,396.4 L381.4,400.4 L382.4,404.2 L383.4,407.9 L384.4,411.5 L385.4,414.9 L386.4,418.1 L387.4,421.2 L388.4,424.0 L389.4,426.8 L390.4,429.3 L391.4,431.7 L392.4,434.0 L393.4,436.1 L394.4,438.0 L395.4,439.8 L396.4,441.4 L397.4,443.0 L398.4,444.3 L399.4,445.6 L400.4,446.8 L401.4,447.8 L402.4,448.8 L403.4,449.7 L404.4,450.4 L405.4,451.1 L406.4,451.8 L407.4,452.3 L408.4,452.9 L409.4,453.3 L410.4,453.7 L411.4,454.1 L412.4,454.4 L413.4,454.7 L414.4,454.9 L415.4,455.1 L416.4,455.3 L417.4,455.5 L418.4,455.6 L419.4,455.8 L420.4,455.9 L421.4,456.0 L422.4,456.1 L423.4,456.2 L424.4,456.2 L425.4,456.3 L426.4,456.3 L427.4,456.4 L428.4,456.4 L429.4,456.5 L430.4,456.5 L431.4,456.5 L432.4,456.5 L433.4,456.6 L434.4,456.6 L435.4,456.6 L436.4,456.6 L437.4,456.6 L438.4,456.6 L439.4,456.6 L440.4,456.6 L441.4,456.7 L442.4,456.7 L443.4,456.7 L444.4,456.7 L445.4,456.7 L446.4,456.7 L447.4,456.7 L448.4,456.7 L449.4,456.7 L450.4,456.7 L451.4,456.7 L452.4,456.7 L453.4,456.7 L454.4,456.7 L455.4,456.7 L456.4,456.7 L457.4,456.7 L458.4,456.7 L459.4,456.7 L460.4,456.7 L461.4,456.7 L462.4,456.7 L463.4,456.7 L464.4,456.7 L465.4,456.7 L466.4,456.7 L467.4,456.7 L468.4,456.7 L469.4,456.7 L470.4,456.7 L471.4,456.7 L472.4,456.7 L473.4,456.7 L474.4,456.7 L475.4,456.7 L476.4,456.7 L477.1,456.7" fill="none" stroke="#ff7f0e" stroke-width="2.1"/>
<path d="M236.4,450.6 L237.4,450.6 L238.4,450.6 L239.4,450.6 L240.4,450.6 L241.4,450.6 L242.4,450.6 L243.4,450.6 L244.4,450.6 L245.4,450.6 L246.4,450.6 L247.4,450.6 L248.4,450.6 L249.4,450.6 L250.4,450.6 L251.4,450.6 L252.4,450.6 L253.4,450.6 L254.4,450.6 L255.4,450.6 L256.4,450.6 L257.4,450.6 L258.4,450.6 L259.4,450.6 L260.4,450.6 L261.4,450.6 L262.4,450.6 L263.4,450.6 L264.4,450.6 L265.4,450.6 L266.4,450.6 L267.4,450.6 L268.4,450.6 L269.4,450.6 L270.4,450.6 L271.4,450.6 L272.4,450.6 L273.4,450.6 L274.4,450.6 L275.4,450.6 L276.4,450.6 L277.4,450.6 L278.4,450.6 L279.4,450.6 L280.4,450.6 L281.4,450.6 L282.4,450.6 L283.4,450.6 L284.4,450.6 L285.4,450.7 L286.4,450.7 L287.4,450.7 L288.4,450.7 L289.4,450.7 L290.4,450.7 L291.4,450.7 L292.4,450.7 L293.4,450.7 L294.4,450.7 L295.4,450.7 L296.4,450.7 L297.4,450.7 L298.4,450.7 L299.4,450.7 L300.4,450.8 L301.4,450.8 L302.4,450.8 L303.4,450.8 L304.4,450.8 L305.4,450.8 L306.4,450.8 L307.4,450.8 L308.4,450.9 L309.4,450.9 L310.4,450.9 L311.4,450.9 L312.4,450.9 L313.4,450.9 L314.4,451.0 L315.4,451.0 L316.4,451.0 L317.4,451.0 L318.4,451.1 L319.4,451.1 L320.4,451.1 L321.4,451.1 L322.4,451.2 L323.4,451.2 L324.4,451.2 L325.4,451.3 L326.4,451.3 L327.4,451.3 L328.4,451.3 L329.4,451.4 L330.4,451.4 L331.4,451.4 L332.4,451.5 L333.4,451.5 L334.4,451.5 L335.4,451.5 L336.4,451.6 L337.4,451.6 L338.4,451.6 L339.4,451.6 L340.4,451.6 L341.4,451.6 L342.4,451.5 L343.4,451.5 L344.4,451.4 L345.4,451.4 L346.4,451.3 L347.4,451.2 L348.4,451.0 L349.4,450.9 L350.4,450.7 L351.4,450.5 L352.4,450.2 L353.4,449.9 L354.4,449.6 L355.4,449.2 L356.4,448.8 L357.4,448.3 L358.4,447.8 L359.4,447.2 L360.4,446.5 L361.4,445.8 L362.4,445.0 L363.4,444.2 L364.4,443.2 L365.4,442.2 L366.4,441.2 L367.4,440.0 L368.4,438.8 L369.4,437.4 L370.4,436.0 L371.4,434.6 L372.4,433.0 L373.4,431.4 L374.4,429.7 L375.4,427.9 L376.4,426.1 L377.4,424.2 L378.4,422.3 L379.4,420.3 L380.4,418.3 L381.4,416.3 L382.4,414.2 L383.4,412.2 L384.4,410.1 L385.4,408.1 L386.4,406.1 L387.4,404.2 L388.4,402.2 L389.4,400.4 L390.4,398.6 L391.4,397.0 L392.4,395.4 L393.4,393.9 L394.4,392.6 L395.4,391.4 L396.4,390.3 L397.4,389.4 L398.4,388.7 L399.4,388.1 L400.4,387.6 L401.4,387.4 L402.4,387.3 L403.4,387.4 L404.4,387.7 L405.4,388.1 L406.4,388.7 L407.4,389.5 L408.4,390.4 L409.4,391.5 L410.4,392.7 L411.4,394.1 L412.4,395.5 L413.4,397.2 L414.4,398.9 L415.4,400.7 L416.4,402.5 L417.4,404.5 L418.4,406.5 L419.4,408.6 L420.4,410.6 L421.4,412.8 L422.4,414.9 L423.4,417.0 L424.4,419.1 L425.4,421.2 L426.4,423.2 L427.4,425.3 L428.4,427.2 L429.4,429.1 L430.4,431.0 L431.4,432.8 L432.4,434.5 L433.4,436.2 L434.4,437.7 L435.4,439.2 L436.4,440.7 L437.4,442.0 L438.4,443.3 L439.4,444.5 L440.4,445.6 L441.4,446.6 L442.4,447.6 L443.4,448.5 L444.4,449.3 L445.4,450.1 L446.4,450.7 L447.4,451.4 L448.4,452.0 L449.4,452.5 L450.4,453.0 L451.4,453.4 L452.4,453.8 L453.4,454.1 L454.4,454.5 L455.4,454.7 L456.4,455.0 L457.4,455.2 L458.4,455.4 L459.4,455.6 L460.4,455.7 L461.4,455.9 L462.4,456.0 L463.4,456.1 L464.4,456.2 L465.4,456.3 L466.4,456.3 L467.4,456.4 L468.4,456.4 L469.4,456.5 L470.4,456.5 L471.4,456.5 L472.4,456.6 L473.4,456.6 L474.4,456.6 L475.4,456.6 L476.4,456.6 L477.1,456.6" fill="none" stroke="#ff1493" stroke-width="2.1"/>
<path d="M236.4,450.6 L237.4,450.6 L238.4,450.6 L239.4,450.5 L240.4,450.5 L241.4,450.5 L242.4,450.5 L243.4,450.5 L244.4,450.5 L245.4,450.5 L246.4,450.5 L247.4,450.4 L248.4,450.4 L249.4,450.4 L250.4,450.3 L251.4,450.3 L252.4,450.3 L253.4,450.2 L254.4,450.2 L255.4,450.1 L256.4,450.1 L257.4,450.0 L258.4,449.9 L259.4,449.8 L260.4,449.7 L261.4,449.6 L262.4,449.5 L263.4,449.4 L264.4,449.3 L265.4,449.1 L266.4,449.0 L267.4,448.8 L268.4,448.6 L269.4,448.4 L270.4,448.2 L271.4,447.9 L272.4,447.7 L273.4,447.4 L274.4,447.1 L275.4,446.8 L276.4,446.5 L277.4,446.2 L278.4,445.8 L279.4,445.5 L280.4,445.1 L281.4,444.7 L282.4,444.3 L283.4,443.8 L284.4,443.4 L285.4,442.9 L286.4,442.4 L287.4,441.9 L288.4,441.4 L289.4,440.9 L290.4,440.4 L291.4,439.9 L292.4,439.4 L293.4,438.8 L294.4,438.3 L295.4,437.8 L296.4,437.3 L297.4,436.8 L298.4,436.3 L299.4,435.8 L300.4,435.3 L301.4,434.8 L302.4,434.4 L303.4,434.0 L304.4,433.6 L305.4,433.3 L306.4,432.9 L307.4,432.6 L308.4,432.4 L309.4,432.2 L310.4,432.0 L311.4,431.8 L312.4,431.7 L313.4,431.6 L314.4,431.6 L315.4,431.6 L316.4,431.7 L317.4,431.7 L318.4,431.9 L319.4,432.1 L320.4,432.3 L321.4,432.5 L322.4,432.8 L323.4,433.1 L324.4,433.5 L325.4,433.9 L326.4,434.3 L327.4,434.7 L328.4,435.2 L329.4,435.7 L330.4,436.2 L331.4,436.8 L332.4,437.3 L333.4,437.9 L334.4,438.5 L335.4,439.0 L336.4,439.6 L337.4,440.2 L338.4,440.8 L339.4,441.4 L340.4,442.0 L341.4,442.6 L342.4,443.2 L343.4,443.8 L344.4,444.3 L345.4,444.9 L346.4,445.4 L347.4,445.9 L348.4,446.5 L349.4,446.9 L350.4,447.4 L351.4,447.9 L352.4,448.3 L353.4,448.8 L354.4,449.2 L355.4,449.6 L356.4,449.9 L357.4,450.3 L358.4,450.6 L359.4,451.0 L360.4,451.3 L361.4,451.5 L362.4,451.8 L363.4,452.1 L364.4,452.3 L365.4,452.5 L366.4,452.7 L367.4,452.9 L368.4,453.1 L369.4,453.3 L370.4,453.5 L371.4,453.6 L372.4,453.8 L373.4,453.9 L374.4,454.0 L375.4,454.1 L376.4,454.2 L377.4,454.3 L378.4,454.4 L379.4,454.5 L380.4,454.6 L381.4,454.7 L382.4,454.8 L383.4,454.8 L384.4,454.9 L385.4,455.0 L386.4,455.0 L387.4,455.1 L388.4,455.1 L389.4,455.2 L390.4,455.3 L391.4,455.3 L392.4,455.4 L393.4,455.4 L394.4,455.4 L395.4,455.5 L396.4,455.5 L397.4,455.6 L398.4,455.6 L399.4,455.7 L400.4,455.7 L401.4,455.8 L402.4,455.8 L403.4,455.8 L404.4,455.9 L405.4,455.9 L406.4,456.0 L407.4,456.0 L408.4,456.0 L409.4,456.1 L410.4,456.1 L411.4,456.1 L412.4,456.2 L413.4,456.2 L414.4,456.2 L415.4,456.3 L416.4,456.3 L417.4,456.3 L418.4,456.3 L419.4,456.4 L420.4,456.4 L421.4,456.4 L422.4,456.4 L423.4,456.4 L424.4,456.5 L425.4,456.5 L426.4,456.5 L427.4,456.5 L428.4,456.5 L429.4,456.6 L430.4,456.6 L431.4,456.6 L432.4,456.6 L433.4,456.6 L434.4,456.6 L435.4,456.6 L436.4,456.6 L437.4,456.6 L438.4,456.6 L439.4,456.6 L440.4,456.7 L441.4,456.7 L442.4,456.7 L443.4,456.7 L444.4,456.7 L445.4,456.7 L446.4,456.7 L447.4,456.7 L448.4,456.7 L449.4,456.7 L450.4,456.7 L451.4,456.7 L452.4,456.7 L453.4,456.7 L454.4,456.7 L455.4,456.7 L456.4,456.7 L457.4,456.7 L458.4,456.7 L459.4,456.7 L460.4,456.7 L461.4,456.7 L462.4,456.7 L463.4,456.7 L464.4,456.7 L465.4,456.7 L466.4,456.7 L467.4,456.7 L468.4,456.7 L469.4,456.7 L470.4,456.7 L471.4,456.7 L472.4,456.7 L473.4,456.7 L474.4,456.7 L475.4,456.7 L476.4,456.7 L477.1,456.7" fill="none" stroke="#22bcd0" stroke-width="2.1"/>
</g>
<g>
<g fill="#000"><circle cx="75.4" cy="675.3" r="4.4"/><circle cx="85.1" cy="676.1" r="4.4"/><circle cx="94.9" cy="675.3" r="4.4"/><circle cx="104.6" cy="678.3" r="4.4"/><circle cx="114.3" cy="676.1" r="4.4"/><circle cx="124.1" cy="677.2" r="4.4"/><circle cx="133.8" cy="677.2" r="4.4"/><circle cx="143.5" cy="678.5" r="4.4"/><circle cx="153.3" cy="676.1" r="4.4"/><circle cx="163.0" cy="675.3" r="4.4"/><circle cx="172.8" cy="677.2" r="4.4"/><circle cx="182.5" cy="677.2" r="4.4"/><circle cx="192.2" cy="677.8" r="4.4"/><circle cx="202.0" cy="676.4" r="4.4"/><circle cx="211.7" cy="676.8" r="4.4"/><circle cx="221.4" cy="677.9" r="4.4"/><circle cx="231.2" cy="675.8" r="4.4"/><circle cx="240.9" cy="677.5" r="4.4"/><circle cx="250.6" cy="676.8" r="4.4"/><circle cx="260.4" cy="673.8" r="4.4"/><circle cx="270.1" cy="669.2" r="4.4"/><circle cx="279.8" cy="665.2" r="4.4"/><circle cx="289.6" cy="656.8" r="4.4"/><circle cx="299.3" cy="643.5" r="4.4"/><circle cx="309.0" cy="628.2" r="4.4"/><circle cx="318.8" cy="604.2" r="4.4"/><circle cx="328.5" cy="563.5" r="4.4"/><circle cx="338.2" cy="532.7" r="4.4"/><circle cx="348.0" cy="518.4" r="4.4"/><circle cx="357.7" cy="525.8" r="4.4"/><circle cx="367.4" cy="562.4" r="4.4"/><circle cx="377.2" cy="592.2" r="4.4"/><circle cx="386.9" cy="606.9" r="4.4"/><circle cx="396.7" cy="615.1" r="4.4"/><circle cx="406.4" cy="624.0" r="4.4"/><circle cx="416.1" cy="642.4" r="4.4"/><circle cx="425.9" cy="661.1" r="4.4"/><circle cx="435.6" cy="674.9" r="4.4"/><circle cx="445.3" cy="682.6" r="4.4"/><circle cx="455.1" cy="683.1" r="4.4"/><circle cx="464.8" cy="685.1" r="4.4"/><circle cx="474.5" cy="683.1" r="4.4"/><circle cx="484.3" cy="684.0" r="4.4"/><circle cx="494.0" cy="682.6" r="4.4"/><circle cx="503.7" cy="684.0" r="4.4"/><circle cx="513.5" cy="685.1" r="4.4"/><circle cx="523.2" cy="685.1" r="4.4"/></g>
<path d="M75.4,675.3 L76.5,675.4 L77.9,675.6 L79.7,675.8 L81.5,675.9 L83.4,676.0 L85.1,676.1 L86.8,676.0 L88.4,675.8 L90.0,675.6 L91.6,675.3 L93.2,675.2 L94.9,675.3 L96.5,675.6 L98.1,676.2 L99.7,676.9 L101.4,677.5 L103.0,678.1 L104.6,678.3 L106.2,678.2 L107.9,677.8 L109.5,677.3 L111.1,676.8 L112.7,676.3 L114.3,676.1 L116.0,676.1 L117.6,676.3 L119.2,676.5 L120.8,676.8 L122.5,677.0 L124.1,677.2 L125.7,677.2 L127.3,677.2 L128.9,677.2 L130.6,677.1 L132.2,677.1 L133.8,677.2 L135.4,677.4 L137.1,677.7 L138.7,678.0 L140.3,678.3 L141.9,678.5 L143.5,678.5 L145.2,678.3 L146.8,677.9 L148.4,677.4 L150.0,676.9 L151.7,676.5 L153.3,676.1 L154.9,675.8 L156.5,675.6 L158.1,675.4 L159.8,675.3 L161.4,675.3 L163.0,675.3 L164.6,675.5 L166.3,675.8 L167.9,676.2 L169.5,676.6 L171.1,677.0 L172.8,677.2 L174.4,677.3 L176.0,677.3 L177.6,677.3 L179.2,677.2 L180.9,677.2 L182.5,677.2 L184.1,677.3 L185.7,677.4 L187.4,677.6 L189.0,677.7 L190.6,677.8 L192.2,677.8 L193.8,677.7 L195.5,677.4 L197.1,677.1 L198.7,676.8 L200.3,676.6 L202.0,676.4 L203.6,676.4 L205.2,676.4 L206.8,676.4 L208.4,676.5 L210.1,676.7 L211.7,676.8 L213.3,677.0 L214.9,677.2 L216.6,677.5 L218.2,677.7 L219.8,677.9 L221.4,677.9 L223.1,677.7 L224.9,677.3 L226.6,676.9 L228.3,676.4 L229.9,676.0 L231.2,675.8 L232.2,675.8 L233.1,675.9 L233.8,676.1 L234.4,676.4 L234.9,676.6 L235.3,676.7 L235.3,676.7 L236.3,676.7 L237.3,676.7 L238.3,676.7 L239.3,676.6 L240.3,676.6 L241.3,676.6 L242.3,676.5 L243.3,676.5 L244.3,676.5 L245.3,676.4 L246.3,676.4 L247.3,676.3 L248.3,676.2 L249.3,676.1 L250.3,676.1 L251.3,676.0 L252.3,675.9 L253.3,675.7 L254.3,675.6 L255.3,675.5 L256.3,675.3 L257.3,675.1 L258.3,674.9 L259.3,674.7 L260.3,674.5 L261.3,674.2 L262.3,674.0 L263.3,673.7 L264.3,673.3 L265.3,673.0 L266.3,672.6 L267.3,672.2 L268.3,671.8 L269.3,671.4 L270.3,670.9 L271.3,670.4 L272.3,669.8 L273.3,669.3 L274.3,668.7 L275.3,668.1 L276.3,667.4 L277.3,666.7 L278.3,666.0 L279.3,665.3 L280.3,664.5 L281.3,663.7 L282.3,662.8 L283.3,662.0 L284.3,661.1 L285.3,660.2 L286.3,659.2 L287.3,658.2 L288.3,657.2 L289.3,656.2 L290.3,655.1 L291.3,654.0 L292.3,652.9 L293.3,651.8 L294.3,650.6 L295.3,649.4 L296.3,648.1 L297.3,646.9 L298.3,645.5 L299.3,644.1 L300.3,642.7 L301.3,641.2 L302.3,639.7 L303.3,638.1 L304.3,636.5 L305.3,634.7 L306.3,632.9 L307.3,631.0 L308.3,629.0 L309.3,626.9 L310.3,624.7 L311.3,622.5 L312.3,620.0 L313.3,617.5 L314.3,614.9 L315.3,612.1 L316.3,609.3 L317.3,606.3 L318.3,603.2 L319.3,599.9 L320.3,596.6 L321.3,593.1 L322.3,589.6 L323.3,585.9 L324.3,582.2 L325.3,578.4 L326.3,574.6 L327.3,570.7 L328.3,566.7 L329.3,562.8 L330.3,558.9 L331.3,555.0 L332.3,551.2 L333.3,547.4 L334.3,543.8 L335.3,540.3 L336.3,536.9 L337.3,533.7 L338.3,530.7 L339.3,527.9 L340.3,525.3 L341.3,523.0 L342.3,520.9 L343.3,519.2 L344.3,517.7 L345.3,516.6 L346.3,515.8 L347.3,515.3 L348.3,515.1 L349.3,515.3 L350.3,515.8 L351.3,516.6 L352.3,517.8 L353.3,519.2 L354.3,521.0 L355.3,523.0 L356.3,525.3 L357.3,527.9 L358.3,530.7 L359.3,533.6 L360.3,536.8 L361.3,540.1 L362.3,543.5 L363.3,547.0 L364.3,550.5 L365.3,554.1 L366.3,557.7 L367.3,561.3 L368.3,564.9 L369.3,568.4 L370.3,571.8 L371.3,575.1 L372.3,578.3 L373.3,581.4 L374.3,584.3 L375.3,587.0 L376.3,589.6 L377.3,592.1 L378.3,594.3 L379.3,596.4 L380.3,598.3 L381.3,600.0 L382.3,601.6 L383.3,603.1 L384.3,604.3 L385.3,605.5 L386.3,606.6 L387.3,607.5 L388.3,608.4 L389.3,609.2 L390.3,609.9 L391.3,610.7 L392.3,611.3 L393.3,612.0 L394.3,612.7 L395.3,613.4 L396.3,614.2 L397.3,615.0 L398.3,615.9 L399.3,616.8 L400.3,617.8 L401.3,618.9 L402.3,620.0 L403.3,621.3 L404.3,622.6 L405.3,624.0 L406.3,625.6 L407.3,627.1 L408.3,628.8 L409.3,630.5 L410.3,632.3 L411.3,634.2 L412.3,636.1 L413.3,638.0 L414.3,640.0 L415.3,642.0 L416.3,644.0 L417.3,646.0 L418.3,648.0 L419.3,649.9 L420.3,651.9 L421.3,653.8 L422.3,655.7 L423.3,657.5 L424.3,659.2 L425.3,660.9 L426.3,662.6 L427.3,664.2 L428.3,665.7 L429.3,667.1 L430.3,668.4 L431.3,669.7 L432.3,670.9 L433.3,672.0 L434.3,673.1 L435.3,674.1 L436.3,675.0 L437.3,675.8 L438.3,676.6 L439.3,677.3 L440.3,677.9 L441.3,678.5 L442.3,679.1 L443.3,679.5 L444.3,680.0 L445.3,680.4 L446.3,680.7 L447.3,681.0 L448.3,681.3 L449.3,681.6 L450.3,681.8 L451.3,682.0 L452.3,682.1 L453.3,682.3 L454.3,682.4 L455.3,682.5 L456.3,682.6 L457.3,682.7 L458.3,682.8 L459.3,682.9 L460.3,682.9 L461.3,683.0 L462.3,683.0 L463.3,683.0 L464.3,683.1 L465.3,683.1 L466.3,683.1 L467.3,683.1 L468.3,683.1 L469.3,683.1 L470.3,683.2 L471.3,683.2 L472.3,683.2 L473.3,683.2 L474.3,683.2 L475.3,683.2 L476.3,683.2 L477.1,683.2 L477.1,683.2 L477.9,683.3 L478.9,683.5 L480.1,683.7 L481.4,683.9 L482.8,684.0 L484.3,684.0 L485.7,683.9 L487.3,683.6 L489.0,683.3 L490.7,682.9 L492.4,682.7 L494.0,682.6 L495.6,682.7 L497.2,682.9 L498.9,683.1 L500.5,683.5 L502.1,683.8 L503.7,684.0 L505.4,684.2 L507.0,684.4 L508.6,684.6 L510.2,684.8 L511.9,685.0 L513.5,685.1 L515.1,685.2 L516.9,685.2 L518.6,685.2 L520.2,685.1 L521.8,685.1 L523.2,685.1 L524.5,685.1 L525.7,685.1 L526.8,685.1 L527.8,685.1 L528.6,685.1 L529.2,685.1" fill="none" stroke="#0000ff" stroke-width="2.5" stroke-linejoin="round" stroke-linecap="round"/>
<path d="M235.3,676.8 L239.3,676.8 L243.3,676.8 L247.3,676.8 L251.3,676.8 L255.3,676.8 L259.3,676.8 L263.3,676.8 L267.3,676.8 L271.3,676.8 L275.3,676.9 L279.3,676.9 L283.3,676.9 L287.3,676.9 L291.3,677.0 L295.3,677.0 L299.3,677.1 L303.3,677.2 L307.3,677.3 L311.3,677.4 L315.3,677.5 L319.3,677.7 L323.3,677.8 L327.3,678.0 L331.3,678.3 L335.3,678.6 L339.3,678.9 L343.3,679.2 L347.3,679.5 L351.3,679.9 L355.3,680.2 L359.3,680.5 L363.3,680.8 L367.3,681.1 L371.3,681.3 L375.3,681.5 L379.3,681.7 L383.3,681.9 L387.3,682.0 L391.3,682.2 L395.3,682.3 L399.3,682.5 L403.3,682.6 L407.3,682.7 L411.3,682.8 L415.3,682.9 L419.3,683.0 L423.3,683.1 L427.3,683.1 L431.3,683.1 L435.3,683.2 L439.3,683.2 L443.3,683.2 L447.3,683.2 L451.3,683.2 L455.3,683.2 L459.3,683.2 L463.3,683.2 L467.3,683.2 L471.3,683.2 L475.3,683.2" fill="none" stroke="#00ff00" stroke-width="4.5"/>
<path d="M235.3,676.8 L236.3,676.8 L237.3,676.8 L238.3,676.8 L239.3,676.8 L240.3,676.8 L241.3,676.8 L242.3,676.8 L243.3,676.8 L244.3,676.8 L245.3,676.8 L246.3,676.8 L247.3,676.8 L248.3,676.8 L249.3,676.8 L250.3,676.8 L251.3,676.8 L252.3,676.8 L253.3,676.8 L254.3,676.8 L255.3,676.8 L256.3,676.8 L257.3,676.8 L258.3,676.8 L259.3,676.8 L260.3,676.8 L261.3,676.8 L262.3,676.8 L263.3,676.8 L264.3,676.8 L265.3,676.8 L266.3,676.8 L267.3,676.8 L268.3,676.8 L269.3,676.8 L270.3,676.8 L271.3,676.7 L272.3,676.7 L273.3,676.7 L274.3,676.7 L275.3,676.6 L276.3,676.6 L277.3,676.6 L278.3,676.5 L279.3,676.5 L280.3,676.4 L281.3,676.3 L282.3,676.2 L283.3,676.1 L284.3,676.0 L285.3,675.8 L286.3,675.6 L287.3,675.4 L288.3,675.2 L289.3,675.0 L290.3,674.6 L291.3,674.3 L292.3,673.9 L293.3,673.5 L294.3,673.0 L295.3,672.4 L296.3,671.8 L297.3,671.1 L298.3,670.3 L299.3,669.4 L300.3,668.5 L301.3,667.4 L302.3,666.2 L303.3,664.9 L304.3,663.5 L305.3,662.0 L306.3,660.3 L307.3,658.5 L308.3,656.5 L309.3,654.4 L310.3,652.1 L311.3,649.6 L312.3,647.0 L313.3,644.2 L314.3,641.3 L315.3,638.1 L316.3,634.8 L317.3,631.4 L318.3,627.7 L319.3,623.9 L320.3,620.0 L321.3,615.9 L322.3,611.7 L323.3,607.4 L324.3,602.9 L325.3,598.4 L326.3,593.8 L327.3,589.2 L328.3,584.5 L329.3,579.8 L330.3,575.1 L331.3,570.5 L332.3,565.9 L333.3,561.4 L334.3,557.0 L335.3,552.8 L336.3,548.7 L337.3,544.9 L338.3,541.2 L339.3,537.8 L340.3,534.7 L341.3,531.8 L342.3,529.3 L343.3,527.1 L344.3,525.2 L345.3,523.7 L346.3,522.6 L347.3,521.8 L348.3,521.4 L349.3,521.4 L350.3,521.8 L351.3,522.6 L352.3,523.8 L353.3,525.3 L354.3,527.2 L355.3,529.4 L356.3,532.0 L357.3,534.9 L358.3,538.1 L359.3,541.5 L360.3,545.2 L361.3,549.2 L362.3,553.3 L363.3,557.6 L364.3,562.1 L365.3,566.7 L366.3,571.3 L367.3,576.1 L368.3,580.9 L369.3,585.7 L370.3,590.5 L371.3,595.3 L372.3,600.0 L373.3,604.7 L374.3,609.2 L375.3,613.7 L376.3,618.1 L377.3,622.3 L378.3,626.4 L379.3,630.3 L380.3,634.1 L381.3,637.7 L382.3,641.2 L383.3,644.4 L384.3,647.5 L385.3,650.5 L386.3,653.2 L387.3,655.8 L388.3,658.2 L389.3,660.5 L390.3,662.6 L391.3,664.5 L392.3,666.3 L393.3,668.0 L394.3,669.5 L395.3,670.9 L396.3,672.2 L397.3,673.3 L398.3,674.4 L399.3,675.4 L400.3,676.2 L401.3,677.0 L402.3,677.7 L403.3,678.3 L404.3,678.9 L405.3,679.4 L406.3,679.9 L407.3,680.3 L408.3,680.6 L409.3,680.9 L410.3,681.2 L411.3,681.5 L412.3,681.7 L413.3,681.9 L414.3,682.1 L415.3,682.2 L416.3,682.3 L417.3,682.4 L418.3,682.5 L419.3,682.6 L420.3,682.7 L421.3,682.8 L422.3,682.8 L423.3,682.9 L424.3,682.9 L425.3,683.0 L426.3,683.0 L427.3,683.0 L428.3,683.0 L429.3,683.1 L430.3,683.1 L431.3,683.1 L432.3,683.1 L433.3,683.1 L434.3,683.1 L435.3,683.1 L436.3,683.2 L437.3,683.2 L438.3,683.2 L439.3,683.2 L440.3,683.2 L441.3,683.2 L442.3,683.2 L443.3,683.2 L444.3,683.2 L445.3,683.2 L446.3,683.2 L447.3,683.2 L448.3,683.2 L449.3,683.2 L450.3,683.2 L451.3,683.2 L452.3,683.2 L453.3,683.2 L454.3,683.2 L455.3,683.2 L456.3,683.2 L457.3,683.2 L458.3,683.2 L459.3,683.2 L460.3,683.2 L461.3,683.2 L462.3,683.2 L463.3,683.2 L464.3,683.2 L465.3,683.2 L466.3,683.2 L467.3,683.2 L468.3,683.2 L469.3,683.2 L470.3,683.2 L471.3,683.2 L472.3,683.2 L473.3,683.2 L474.3,683.2 L475.3,683.2 L476.3,683.2 L477.1,683.2" fill="none" stroke="#ff7f0e" stroke-width="2.1"/>
<path d="M235.3,676.8 L236.3,676.8 L237.3,676.8 L238.3,676.8 L239.3,676.8 L240.3,676.8 L241.3,676.8 L242.3,676.8 L243.3,676.8 L244.3,676.8 L245.3,676.8 L246.3,676.8 L247.3,676.8 L248.3,676.8 L249.3,676.8 L250.3,676.8 L251.3,676.8 L252.3,676.8 L253.3,676.8 L254.3,676.8 L255.3,676.8 L256.3,676.8 L257.3,676.8 L258.3,676.8 L259.3,676.8 L260.3,676.8 L261.3,676.8 L262.3,676.8 L263.3,676.8 L264.3,676.8 L265.3,676.8 L266.3,676.8 L267.3,676.8 L268.3,676.8 L269.3,676.8 L270.3,676.8 L271.3,676.8 L272.3,676.8 L273.3,676.8 L274.3,676.8 L275.3,676.9 L276.3,676.9 L277.3,676.9 L278.3,676.9 L279.3,676.9 L280.3,676.9 L281.3,676.9 L282.3,676.9 L283.3,676.9 L284.3,676.9 L285.3,676.9 L286.3,676.9 L287.3,676.9 L288.3,676.9 L289.3,677.0 L290.3,677.0 L291.3,677.0 L292.3,677.0 L293.3,677.0 L294.3,677.0 L295.3,677.0 L296.3,677.1 L297.3,677.1 L298.3,677.1 L299.3,677.1 L300.3,677.1 L301.3,677.1 L302.3,677.2 L303.3,677.2 L304.3,677.2 L305.3,677.2 L306.3,677.2 L307.3,677.3 L308.3,677.3 L309.3,677.3 L310.3,677.3 L311.3,677.4 L312.3,677.4 L313.3,677.4 L314.3,677.5 L315.3,677.5 L316.3,677.5 L317.3,677.6 L318.3,677.6 L319.3,677.6 L320.3,677.7 L321.3,677.7 L322.3,677.8 L323.3,677.8 L324.3,677.9 L325.3,677.9 L326.3,678.0 L327.3,678.0 L328.3,678.1 L329.3,678.1 L330.3,678.2 L331.3,678.2 L332.3,678.3 L333.3,678.3 L334.3,678.3 L335.3,678.4 L336.3,678.4 L337.3,678.5 L338.3,678.5 L339.3,678.5 L340.3,678.5 L341.3,678.5 L342.3,678.5 L343.3,678.5 L344.3,678.4 L345.3,678.4 L346.3,678.3 L347.3,678.2 L348.3,678.1 L349.3,677.9 L350.3,677.8 L351.3,677.5 L352.3,677.3 L353.3,677.0 L354.3,676.7 L355.3,676.3 L356.3,675.9 L357.3,675.4 L358.3,674.8 L359.3,674.2 L360.3,673.6 L361.3,672.8 L362.3,672.0 L363.3,671.2 L364.3,670.2 L365.3,669.2 L366.3,668.1 L367.3,667.0 L368.3,665.7 L369.3,664.4 L370.3,663.0 L371.3,661.5 L372.3,660.0 L373.3,658.4 L374.3,656.8 L375.3,655.1 L376.3,653.3 L377.3,651.5 L378.3,649.7 L379.3,647.9 L380.3,646.0 L381.3,644.2 L382.3,642.4 L383.3,640.6 L384.3,638.8 L385.3,637.1 L386.3,635.4 L387.3,633.8 L388.3,632.3 L389.3,630.8 L390.3,629.5 L391.3,628.3 L392.3,627.3 L393.3,626.3 L394.3,625.5 L395.3,624.9 L396.3,624.4 L397.3,624.1 L398.3,623.9 L399.3,623.9 L400.3,624.1 L401.3,624.4 L402.3,624.9 L403.3,625.6 L404.3,626.4 L405.3,627.3 L406.3,628.4 L407.3,629.6 L408.3,630.9 L409.3,632.4 L410.3,633.9 L411.3,635.6 L412.3,637.3 L413.3,639.0 L414.3,640.9 L415.3,642.7 L416.3,644.6 L417.3,646.5 L418.3,648.4 L419.3,650.3 L420.3,652.2 L421.3,654.1 L422.3,655.9 L423.3,657.7 L424.3,659.4 L425.3,661.1 L426.3,662.7 L427.3,664.2 L428.3,665.7 L429.3,667.1 L430.3,668.5 L431.3,669.8 L432.3,670.9 L433.3,672.1 L434.3,673.1 L435.3,674.1 L436.3,675.0 L437.3,675.8 L438.3,676.6 L439.3,677.3 L440.3,677.9 L441.3,678.5 L442.3,679.1 L443.3,679.5 L444.3,680.0 L445.3,680.4 L446.3,680.7 L447.3,681.0 L448.3,681.3 L449.3,681.6 L450.3,681.8 L451.3,682.0 L452.3,682.1 L453.3,682.3 L454.3,682.4 L455.3,682.5 L456.3,682.6 L457.3,682.7 L458.3,682.8 L459.3,682.9 L460.3,682.9 L461.3,683.0 L462.3,683.0 L463.3,683.0 L464.3,683.1 L465.3,683.1 L466.3,683.1 L467.3,683.1 L468.3,683.1 L469.3,683.1 L470.3,683.2 L471.3,683.2 L472.3,683.2 L473.3,683.2 L474.3,683.2 L475.3,683.2 L476.3,683.2 L477.1,683.2" fill="none" stroke="#ff1493" stroke-width="2.1"/>
<path d="M235.3,676.7 L236.3,676.7 L237.3,676.7 L238.3,676.7 L239.3,676.6 L240.3,676.6 L241.3,676.6 L242.3,676.5 L243.3,676.5 L244.3,676.5 L245.3,676.4 L246.3,676.4 L247.3,676.3 L248.3,676.2 L249.3,676.1 L250.3,676.1 L251.3,676.0 L252.3,675.9 L253.3,675.7 L254.3,675.6 L255.3,675.5 L256.3,675.3 L257.3,675.1 L258.3,674.9 L259.3,674.7 L260.3,674.5 L261.3,674.2 L262.3,674.0 L263.3,673.7 L264.3,673.4 L265.3,673.0 L266.3,672.7 L267.3,672.3 L268.3,671.9 L269.3,671.4 L270.3,671.0 L271.3,670.5 L272.3,670.0 L273.3,669.4 L274.3,668.9 L275.3,668.3 L276.3,667.6 L277.3,667.0 L278.3,666.3 L279.3,665.7 L280.3,665.0 L281.3,664.2 L282.3,663.5 L283.3,662.8 L284.3,662.0 L285.3,661.3 L286.3,660.5 L287.3,659.7 L288.3,659.0 L289.3,658.2 L290.3,657.5 L291.3,656.7 L292.3,656.0 L293.3,655.3 L294.3,654.7 L295.3,654.0 L296.3,653.4 L297.3,652.8 L298.3,652.3 L299.3,651.8 L300.3,651.4 L301.3,651.0 L302.3,650.7 L303.3,650.4 L304.3,650.1 L305.3,650.0 L306.3,649.9 L307.3,649.8 L308.3,649.8 L309.3,649.9 L310.3,650.0 L311.3,650.2 L312.3,650.4 L313.3,650.7 L314.3,651.1 L315.3,651.5 L316.3,652.0 L317.3,652.5 L318.3,653.1 L319.3,653.7 L320.3,654.3 L321.3,655.0 L322.3,655.7 L323.3,656.4 L324.3,657.2 L325.3,658.0 L326.3,658.8 L327.3,659.6 L328.3,660.4 L329.3,661.3 L330.3,662.1 L331.3,662.9 L332.3,663.8 L333.3,664.6 L334.3,665.4 L335.3,666.2 L336.3,667.0 L337.3,667.8 L338.3,668.5 L339.3,669.3 L340.3,670.0 L341.3,670.7 L342.3,671.4 L343.3,672.0 L344.3,672.6 L345.3,673.2 L346.3,673.8 L347.3,674.3 L348.3,674.8 L349.3,675.3 L350.3,675.8 L351.3,676.2 L352.3,676.7 L353.3,677.0 L354.3,677.4 L355.3,677.8 L356.3,678.1 L357.3,678.4 L358.3,678.7 L359.3,678.9 L360.3,679.2 L361.3,679.4 L362.3,679.6 L363.3,679.8 L364.3,680.0 L365.3,680.2 L366.3,680.3 L367.3,680.5 L368.3,680.6 L369.3,680.7 L370.3,680.8 L371.3,681.0 L372.3,681.1 L373.3,681.2 L374.3,681.2 L375.3,681.3 L376.3,681.4 L377.3,681.5 L378.3,681.5 L379.3,681.6 L380.3,681.7 L381.3,681.7 L382.3,681.8 L383.3,681.8 L384.3,681.9 L385.3,681.9 L386.3,682.0 L387.3,682.0 L388.3,682.1 L389.3,682.1 L390.3,682.1 L391.3,682.2 L392.3,682.2 L393.3,682.3 L394.3,682.3 L395.3,682.3 L396.3,682.4 L397.3,682.4 L398.3,682.4 L399.3,682.5 L400.3,682.5 L401.3,682.5 L402.3,682.6 L403.3,682.6 L404.3,682.6 L405.3,682.7 L406.3,682.7 L407.3,682.7 L408.3,682.8 L409.3,682.8 L410.3,682.8 L411.3,682.8 L412.3,682.9 L413.3,682.9 L414.3,682.9 L415.3,682.9 L416.3,683.0 L417.3,683.0 L418.3,683.0 L419.3,683.0 L420.3,683.0 L421.3,683.0 L422.3,683.1 L423.3,683.1 L424.3,683.1 L425.3,683.1 L426.3,683.1 L427.3,683.1 L428.3,683.1 L429.3,683.1 L430.3,683.1 L431.3,683.1 L432.3,683.1 L433.3,683.2 L434.3,683.2 L435.3,683.2 L436.3,683.2 L437.3,683.2 L438.3,683.2 L439.3,683.2 L440.3,683.2 L441.3,683.2 L442.3,683.2 L443.3,683.2 L444.3,683.2 L445.3,683.2 L446.3,683.2 L447.3,683.2 L448.3,683.2 L449.3,683.2 L450.3,683.2 L451.3,683.2 L452.3,683.2 L453.3,683.2 L454.3,683.2 L455.3,683.2 L456.3,683.2 L457.3,683.2 L458.3,683.2 L459.3,683.2 L460.3,683.2 L461.3,683.2 L462.3,683.2 L463.3,683.2 L464.3,683.2 L465.3,683.2 L466.3,683.2 L467.3,683.2 L468.3,683.2 L469.3,683.2 L470.3,683.2 L471.3,683.2 L472.3,683.2 L473.3,683.2 L474.3,683.2 L475.3,683.2 L476.3,683.2 L477.1,683.2" fill="none" stroke="#22bcd0" stroke-width="2.1"/>
</g>
<g clip-path="url(#c4)">
<g fill="#000"><circle cx="73.5" cy="930.0" r="4.4"/><circle cx="83.2" cy="929.3" r="4.4"/><circle cx="93.0" cy="930.0" r="4.4"/><circle cx="102.7" cy="928.9" r="4.4"/><circle cx="112.4" cy="931.5" r="4.4"/><circle cx="122.2" cy="931.7" r="4.4"/><circle cx="131.9" cy="933.2" r="4.4"/><circle cx="141.6" cy="931.5" r="4.4"/><circle cx="151.4" cy="931.5" r="4.4"/><circle cx="161.1" cy="932.8" r="4.4"/><circle cx="170.8" cy="932.8" r="4.4"/><circle cx="180.6" cy="931.5" r="4.4"/><circle cx="190.3" cy="931.5" r="4.4"/><circle cx="200.1" cy="930.2" r="4.4"/><circle cx="209.8" cy="931.1" r="4.4"/><circle cx="219.5" cy="930.7" r="4.4"/><circle cx="229.3" cy="930.2" r="4.4"/><circle cx="239.0" cy="931.1" r="4.4"/><circle cx="248.7" cy="930.7" r="4.4"/><circle cx="258.5" cy="929.6" r="4.4"/><circle cx="268.2" cy="926.4" r="4.4"/><circle cx="277.9" cy="920.0" r="4.4"/><circle cx="287.7" cy="912.9" r="4.4"/><circle cx="297.4" cy="900.7" r="4.4"/><circle cx="307.1" cy="876.3" r="4.4"/><circle cx="316.9" cy="841.8" r="4.4"/><circle cx="326.6" cy="793.8" r="4.4"/><circle cx="336.3" cy="744.3" r="4.4"/><circle cx="346.1" cy="723.4" r="4.4"/><circle cx="355.8" cy="736.7" r="4.4"/><circle cx="365.5" cy="786.8" r="4.4"/><circle cx="375.3" cy="838.9" r="4.4"/><circle cx="385.0" cy="876.5" r="4.4"/><circle cx="394.8" cy="890.6" r="4.4"/><circle cx="404.5" cy="897.9" r="4.4"/><circle cx="414.2" cy="910.0" r="4.4"/><circle cx="424.0" cy="922.1" r="4.4"/><circle cx="433.7" cy="930.2" r="4.4"/><circle cx="443.4" cy="934.6" r="4.4"/><circle cx="453.2" cy="938.3" r="4.4"/><circle cx="462.9" cy="937.5" r="4.4"/><circle cx="472.6" cy="936.4" r="4.4"/><circle cx="482.4" cy="939.4" r="4.4"/><circle cx="492.1" cy="939.3" r="4.4"/><circle cx="501.8" cy="939.7" r="4.4"/><circle cx="511.6" cy="939.5" r="4.4"/><circle cx="521.3" cy="939.5" r="4.4"/></g>
<path d="M73.5,930.0 L74.6,929.9 L76.0,929.8 L77.8,929.6 L79.6,929.5 L81.5,929.3 L83.2,929.3 L84.9,929.4 L86.5,929.5 L88.1,929.7 L89.7,929.8 L91.3,930.0 L93.0,930.0 L94.6,929.9 L96.2,929.6 L97.8,929.3 L99.5,929.1 L101.1,928.9 L102.7,928.9 L104.3,929.1 L106.0,929.6 L107.6,930.1 L109.2,930.7 L110.8,931.2 L112.4,931.5 L114.1,931.7 L115.7,931.7 L117.3,931.7 L118.9,931.6 L120.6,931.6 L122.2,931.7 L123.8,931.9 L125.4,932.2 L127.0,932.6 L128.7,932.9 L130.3,933.1 L131.9,933.2 L133.5,933.1 L135.2,932.8 L136.8,932.4 L138.4,932.1 L140.0,931.7 L141.6,931.5 L143.3,931.4 L144.9,931.3 L146.5,931.3 L148.1,931.3 L149.8,931.4 L151.4,931.5 L153.0,931.7 L154.6,931.9 L156.2,932.1 L157.9,932.4 L159.5,932.6 L161.1,932.8 L162.7,932.9 L164.4,932.9 L166.0,933.0 L167.6,932.9 L169.2,932.9 L170.8,932.8 L172.5,932.6 L174.1,932.4 L175.7,932.1 L177.3,931.9 L179.0,931.7 L180.6,931.5 L182.2,931.4 L183.8,931.5 L185.5,931.5 L187.1,931.5 L188.7,931.6 L190.3,931.5 L191.9,931.3 L193.6,931.1 L195.2,930.8 L196.8,930.5 L198.4,930.3 L200.1,930.2 L201.7,930.2 L203.3,930.4 L204.9,930.6 L206.5,930.8 L208.2,931.0 L209.8,931.1 L211.4,931.1 L213.0,931.1 L214.7,931.0 L216.3,930.9 L217.9,930.8 L219.5,930.7 L221.1,930.6 L222.8,930.5 L224.4,930.4 L226.0,930.3 L227.6,930.2 L229.3,930.2 L230.9,930.3 L232.6,930.5 L234.3,930.7 L236.0,930.9 L237.6,931.0 L239.0,931.1 L240.3,931.1 L241.6,931.0 L242.8,930.9 L243.9,930.7 L244.7,930.6 L245.4,930.5 L245.4,930.5 L246.4,930.5 L247.4,930.4 L248.4,930.4 L249.4,930.3 L250.4,930.3 L251.4,930.2 L252.4,930.1 L253.4,930.1 L254.4,930.0 L255.4,929.9 L256.4,929.7 L257.4,929.6 L258.4,929.5 L259.4,929.3 L260.4,929.1 L261.4,928.9 L262.4,928.7 L263.4,928.5 L264.4,928.2 L265.4,927.9 L266.4,927.6 L267.4,927.2 L268.4,926.9 L269.4,926.5 L270.4,926.0 L271.4,925.6 L272.4,925.1 L273.4,924.5 L274.4,923.9 L275.4,923.3 L276.4,922.7 L277.4,922.0 L278.4,921.2 L279.4,920.4 L280.4,919.6 L281.4,918.7 L282.4,917.8 L283.4,916.9 L284.4,915.8 L285.4,914.8 L286.4,913.7 L287.4,912.5 L288.4,911.3 L289.4,910.1 L290.4,908.8 L291.4,907.4 L292.4,906.0 L293.4,904.5 L294.4,903.0 L295.4,901.4 L296.4,899.7 L297.4,898.0 L298.4,896.1 L299.4,894.3 L300.4,892.3 L301.4,890.2 L302.4,888.1 L303.4,885.8 L304.4,883.5 L305.4,881.0 L306.4,878.4 L307.4,875.7 L308.4,872.8 L309.4,869.9 L310.4,866.7 L311.4,863.5 L312.4,860.0 L313.4,856.4 L314.4,852.7 L315.4,848.8 L316.4,844.7 L317.4,840.5 L318.4,836.2 L319.4,831.6 L320.4,827.0 L321.4,822.2 L322.4,817.2 L323.4,812.2 L324.4,807.1 L325.4,801.9 L326.4,796.6 L327.4,791.3 L328.4,786.0 L329.4,780.7 L330.4,775.5 L331.4,770.3 L332.4,765.2 L333.4,760.3 L334.4,755.5 L335.4,750.9 L336.4,746.5 L337.4,742.4 L338.4,738.5 L339.4,735.0 L340.4,731.8 L341.4,729.0 L342.4,726.6 L343.4,724.6 L344.4,723.0 L345.4,721.8 L346.4,721.1 L347.4,720.9 L348.4,721.1 L349.4,721.7 L350.4,722.9 L351.4,724.5 L352.4,726.5 L353.4,728.9 L354.4,731.8 L355.4,735.0 L356.4,738.6 L357.4,742.6 L358.4,746.8 L359.4,751.4 L360.4,756.1 L361.4,761.1 L362.4,766.3 L363.4,771.6 L364.4,777.0 L365.4,782.5 L366.4,788.1 L367.4,793.6 L368.4,799.2 L369.4,804.6 L370.4,810.0 L371.4,815.3 L372.4,820.5 L373.4,825.5 L374.4,830.4 L375.4,835.1 L376.4,839.6 L377.4,843.9 L378.4,848.0 L379.4,851.8 L380.4,855.5 L381.4,858.9 L382.4,862.1 L383.4,865.2 L384.4,868.0 L385.4,870.6 L386.4,873.0 L387.4,875.3 L388.4,877.4 L389.4,879.4 L390.4,881.2 L391.4,882.9 L392.4,884.4 L393.4,885.9 L394.4,887.3 L395.4,888.6 L396.4,889.9 L397.4,891.1 L398.4,892.3 L399.4,893.4 L400.4,894.5 L401.4,895.6 L402.4,896.7 L403.4,897.8 L404.4,898.9 L405.4,900.0 L406.4,901.2 L407.4,902.3 L408.4,903.4 L409.4,904.6 L410.4,905.8 L411.4,906.9 L412.4,908.1 L413.4,909.3 L414.4,910.5 L415.4,911.7 L416.4,912.9 L417.4,914.1 L418.4,915.3 L419.4,916.4 L420.4,917.6 L421.4,918.7 L422.4,919.8 L423.4,920.9 L424.4,922.0 L425.4,923.0 L426.4,924.0 L427.4,924.9 L428.4,925.9 L429.4,926.7 L430.4,927.6 L431.4,928.4 L432.4,929.1 L433.4,929.9 L434.4,930.5 L435.4,931.2 L436.4,931.8 L437.4,932.3 L438.4,932.8 L439.4,933.3 L440.4,933.8 L441.4,934.2 L442.4,934.5 L443.4,934.9 L444.4,935.2 L445.4,935.5 L446.4,935.8 L447.4,936.0 L448.4,936.2 L449.4,936.4 L450.4,936.6 L451.4,936.8 L452.4,936.9 L453.4,937.0 L454.4,937.1 L455.4,937.2 L456.4,937.3 L457.4,937.4 L458.4,937.5 L459.4,937.5 L459.5,937.5 L459.5,937.5 L459.8,937.5 L460.1,937.6 L460.6,937.6 L461.2,937.6 L461.9,937.6 L462.9,937.5 L464.2,937.3 L465.7,937.1 L467.4,936.8 L469.2,936.5 L470.9,936.4 L472.6,936.4 L474.3,936.7 L475.9,937.2 L477.5,937.8 L479.1,938.4 L480.7,939.0 L482.4,939.4 L484.0,939.5 L485.6,939.5 L487.2,939.5 L488.9,939.4 L490.5,939.3 L492.1,939.3 L493.7,939.3 L495.3,939.4 L497.0,939.5 L498.6,939.5 L500.2,939.6 L501.8,939.7 L503.5,939.7 L505.1,939.6 L506.7,939.6 L508.3,939.6 L510.0,939.5 L511.6,939.5 L513.2,939.5 L515.0,939.5 L516.7,939.5 L518.3,939.5 L519.9,939.5 L521.3,939.5 L522.6,939.5 L523.8,939.5 L524.9,939.5 L525.9,939.5 L526.7,939.5 L527.3,939.5" fill="none" stroke="#0000ff" stroke-width="2.5" stroke-linejoin="round" stroke-linecap="round"/>
<path d="M245.4,930.7 L249.4,930.7 L253.4,930.7 L257.4,930.7 L261.4,930.7 L265.4,930.7 L269.4,930.7 L273.4,930.7 L277.4,930.7 L281.4,930.8 L285.4,930.8 L289.4,930.8 L293.4,930.8 L297.4,930.9 L301.4,930.9 L305.4,931.0 L309.4,931.1 L313.4,931.2 L317.4,931.4 L321.4,931.6 L325.4,931.8 L329.4,932.1 L333.4,932.5 L337.4,932.9 L341.4,933.3 L345.4,933.7 L349.4,934.2 L353.4,934.7 L357.4,935.1 L361.4,935.5 L365.4,935.9 L369.4,936.2 L373.4,936.5 L377.4,936.7 L381.4,936.9 L385.4,937.0 L389.4,937.2 L393.4,937.3 L397.4,937.4 L401.4,937.5 L405.4,937.6 L409.4,937.7 L413.4,937.7 L417.4,937.8 L421.4,937.8 L425.4,937.8 L429.4,937.9 L433.4,937.9 L437.4,937.9 L441.4,937.9 L445.4,937.9 L449.4,937.9 L453.4,937.9 L457.4,937.9" fill="none" stroke="#00ff00" stroke-width="4.5"/>
<path d="M245.4,930.7 L246.4,930.7 L247.4,930.7 L248.4,930.7 L249.4,930.7 L250.4,930.7 L251.4,930.7 L252.4,930.7 L253.4,930.7 L254.4,930.7 L255.4,930.7 L256.4,930.7 L257.4,930.7 L258.4,930.7 L259.4,930.7 L260.4,930.7 L261.4,930.7 L262.4,930.7 L263.4,930.7 L264.4,930.7 L265.4,930.7 L266.4,930.7 L267.4,930.7 L268.4,930.6 L269.4,930.6 L270.4,930.6 L271.4,930.6 L272.4,930.6 L273.4,930.5 L274.4,930.5 L275.4,930.4 L276.4,930.4 L277.4,930.3 L278.4,930.3 L279.4,930.2 L280.4,930.1 L281.4,929.9 L282.4,929.8 L283.4,929.6 L284.4,929.4 L285.4,929.2 L286.4,929.0 L287.4,928.7 L288.4,928.3 L289.4,928.0 L290.4,927.5 L291.4,927.0 L292.4,926.5 L293.4,925.9 L294.4,925.2 L295.4,924.4 L296.4,923.5 L297.4,922.5 L298.4,921.4 L299.4,920.2 L300.4,918.8 L301.4,917.4 L302.4,915.7 L303.4,913.9 L304.4,912.0 L305.4,909.9 L306.4,907.6 L307.4,905.1 L308.4,902.3 L309.4,899.4 L310.4,896.3 L311.4,893.0 L312.4,889.4 L313.4,885.6 L314.4,881.6 L315.4,877.4 L316.4,872.9 L317.4,868.2 L318.4,863.4 L319.4,858.3 L320.4,853.0 L321.4,847.5 L322.4,841.9 L323.4,836.1 L324.4,830.2 L325.4,824.2 L326.4,818.1 L327.4,812.0 L328.4,805.8 L329.4,799.6 L330.4,793.5 L331.4,787.4 L332.4,781.5 L333.4,775.7 L334.4,770.0 L335.4,764.5 L336.4,759.3 L337.4,754.4 L338.4,749.8 L339.4,745.5 L340.4,741.5 L341.4,738.0 L342.4,734.9 L343.4,732.2 L344.4,730.0 L345.4,728.2 L346.4,727.0 L347.4,726.2 L348.4,726.0 L349.4,726.3 L350.4,727.0 L351.4,728.3 L352.4,730.1 L353.4,732.3 L354.4,735.1 L355.4,738.2 L356.4,741.8 L357.4,745.8 L358.4,750.2 L359.4,754.9 L360.4,759.9 L361.4,765.3 L362.4,770.8 L363.4,776.6 L364.4,782.5 L365.4,788.6 L366.4,794.8 L367.4,801.1 L368.4,807.4 L369.4,813.7 L370.4,820.0 L371.4,826.3 L372.4,832.4 L373.4,838.5 L374.4,844.5 L375.4,850.3 L376.4,855.9 L377.4,861.4 L378.4,866.6 L379.4,871.7 L380.4,876.5 L381.4,881.2 L382.4,885.6 L383.4,889.8 L384.4,893.7 L385.4,897.4 L386.4,900.9 L387.4,904.2 L388.4,907.3 L389.4,910.1 L390.4,912.7 L391.4,915.2 L392.4,917.4 L393.4,919.5 L394.4,921.4 L395.4,923.1 L396.4,924.7 L397.4,926.1 L398.4,927.5 L399.4,928.6 L400.4,929.7 L401.4,930.7 L402.4,931.5 L403.4,932.3 L404.4,933.0 L405.4,933.6 L406.4,934.1 L407.4,934.6 L408.4,935.0 L409.4,935.4 L410.4,935.7 L411.4,936.0 L412.4,936.3 L413.4,936.5 L414.4,936.7 L415.4,936.9 L416.4,937.0 L417.4,937.1 L418.4,937.2 L419.4,937.3 L420.4,937.4 L421.4,937.5 L422.4,937.6 L423.4,937.6 L424.4,937.6 L425.4,937.7 L426.4,937.7 L427.4,937.7 L428.4,937.8 L429.4,937.8 L430.4,937.8 L431.4,937.8 L432.4,937.8 L433.4,937.8 L434.4,937.9 L435.4,937.9 L436.4,937.9 L437.4,937.9 L438.4,937.9 L439.4,937.9 L440.4,937.9 L441.4,937.9 L442.4,937.9 L443.4,937.9 L444.4,937.9 L445.4,937.9 L446.4,937.9 L447.4,937.9 L448.4,937.9 L449.4,937.9 L450.4,937.9 L451.4,937.9 L452.4,937.9 L453.4,937.9 L454.4,937.9 L455.4,937.9 L456.4,937.9 L457.4,937.9 L458.4,937.9 L459.4,937.9 L459.5,937.9" fill="none" stroke="#ff7f0e" stroke-width="2.1"/>
<path d="M245.4,930.7 L246.4,930.7 L247.4,930.7 L248.4,930.7 L249.4,930.7 L250.4,930.7 L251.4,930.7 L252.4,930.7 L253.4,930.7 L254.4,930.7 L255.4,930.7 L256.4,930.7 L257.4,930.7 L258.4,930.7 L259.4,930.7 L260.4,930.7 L261.4,930.7 L262.4,930.7 L263.4,930.7 L264.4,930.7 L265.4,930.7 L266.4,930.7 L267.4,930.7 L268.4,930.7 L269.4,930.7 L270.4,930.7 L271.4,930.7 L272.4,930.7 L273.4,930.7 L274.4,930.7 L275.4,930.7 L276.4,930.7 L277.4,930.7 L278.4,930.7 L279.4,930.8 L280.4,930.8 L281.4,930.8 L282.4,930.8 L283.4,930.8 L284.4,930.8 L285.4,930.8 L286.4,930.8 L287.4,930.8 L288.4,930.8 L289.4,930.8 L290.4,930.8 L291.4,930.8 L292.4,930.8 L293.4,930.8 L294.4,930.9 L295.4,930.9 L296.4,930.9 L297.4,930.9 L298.4,930.9 L299.4,930.9 L300.4,930.9 L301.4,930.9 L302.4,931.0 L303.4,931.0 L304.4,931.0 L305.4,931.0 L306.4,931.0 L307.4,931.1 L308.4,931.1 L309.4,931.1 L310.4,931.1 L311.4,931.2 L312.4,931.2 L313.4,931.2 L314.4,931.3 L315.4,931.3 L316.4,931.3 L317.4,931.4 L318.4,931.4 L319.4,931.5 L320.4,931.5 L321.4,931.6 L322.4,931.6 L323.4,931.7 L324.4,931.7 L325.4,931.8 L326.4,931.9 L327.4,931.9 L328.4,932.0 L329.4,932.1 L330.4,932.2 L331.4,932.2 L332.4,932.3 L333.4,932.4 L334.4,932.5 L335.4,932.5 L336.4,932.6 L337.4,932.7 L338.4,932.8 L339.4,932.8 L340.4,932.9 L341.4,933.0 L342.4,933.0 L343.4,933.1 L344.4,933.1 L345.4,933.1 L346.4,933.2 L347.4,933.2 L348.4,933.2 L349.4,933.1 L350.4,933.1 L351.4,933.0 L352.4,932.9 L353.4,932.8 L354.4,932.6 L355.4,932.5 L356.4,932.3 L357.4,932.0 L358.4,931.7 L359.4,931.4 L360.4,931.0 L361.4,930.6 L362.4,930.2 L363.4,929.7 L364.4,929.1 L365.4,928.5 L366.4,927.9 L367.4,927.2 L368.4,926.4 L369.4,925.6 L370.4,924.8 L371.4,923.9 L372.4,923.0 L373.4,922.0 L374.4,921.0 L375.4,919.9 L376.4,918.9 L377.4,917.8 L378.4,916.7 L379.4,915.5 L380.4,914.4 L381.4,913.3 L382.4,912.2 L383.4,911.1 L384.4,910.0 L385.4,908.9 L386.4,907.9 L387.4,907.0 L388.4,906.1 L389.4,905.3 L390.4,904.5 L391.4,903.8 L392.4,903.2 L393.4,902.7 L394.4,902.3 L395.4,902.0 L396.4,901.7 L397.4,901.6 L398.4,901.6 L399.4,901.7 L400.4,901.9 L401.4,902.2 L402.4,902.6 L403.4,903.1 L404.4,903.6 L405.4,904.3 L406.4,905.1 L407.4,905.9 L408.4,906.8 L409.4,907.7 L410.4,908.7 L411.4,909.8 L412.4,910.9 L413.4,912.0 L414.4,913.2 L415.4,914.4 L416.4,915.6 L417.4,916.7 L418.4,917.9 L419.4,919.1 L420.4,920.3 L421.4,921.4 L422.4,922.5 L423.4,923.6 L424.4,924.6 L425.4,925.6 L426.4,926.5 L427.4,927.5 L428.4,928.3 L429.4,929.1 L430.4,929.9 L431.4,930.6 L432.4,931.3 L433.4,932.0 L434.4,932.5 L435.4,933.1 L436.4,933.6 L437.4,934.0 L438.4,934.5 L439.4,934.9 L440.4,935.2 L441.4,935.5 L442.4,935.8 L443.4,936.1 L444.4,936.3 L445.4,936.5 L446.4,936.7 L447.4,936.8 L448.4,937.0 L449.4,937.1 L450.4,937.2 L451.4,937.3 L452.4,937.4 L453.4,937.5 L454.4,937.5 L455.4,937.6 L456.4,937.6 L457.4,937.7 L458.4,937.7 L459.4,937.7 L459.5,937.7" fill="none" stroke="#ff1493" stroke-width="2.1"/>
<path d="M245.4,930.3 L246.4,930.3 L247.4,930.2 L248.4,930.2 L249.4,930.1 L250.4,930.0 L251.4,930.0 L252.4,929.9 L253.4,929.8 L254.4,929.7 L255.4,929.6 L256.4,929.5 L257.4,929.4 L258.4,929.3 L259.4,929.1 L260.4,929.0 L261.4,928.8 L262.4,928.7 L263.4,928.5 L264.4,928.3 L265.4,928.1 L266.4,927.9 L267.4,927.7 L268.4,927.4 L269.4,927.2 L270.4,927.0 L271.4,926.7 L272.4,926.4 L273.4,926.1 L274.4,925.8 L275.4,925.5 L276.4,925.2 L277.4,924.9 L278.4,924.5 L279.4,924.2 L280.4,923.9 L281.4,923.5 L282.4,923.1 L283.4,922.8 L284.4,922.4 L285.4,922.0 L286.4,921.7 L287.4,921.3 L288.4,920.9 L289.4,920.6 L290.4,920.2 L291.4,919.8 L292.4,919.5 L293.4,919.2 L294.4,918.8 L295.4,918.5 L296.4,918.2 L297.4,917.9 L298.4,917.7 L299.4,917.4 L300.4,917.2 L301.4,917.0 L302.4,916.8 L303.4,916.6 L304.4,916.5 L305.4,916.4 L306.4,916.3 L307.4,916.2 L308.4,916.2 L309.4,916.2 L310.4,916.2 L311.4,916.3 L312.4,916.3 L313.4,916.4 L314.4,916.6 L315.4,916.7 L316.4,916.9 L317.4,917.1 L318.4,917.3 L319.4,917.6 L320.4,917.9 L321.4,918.2 L322.4,918.5 L323.4,918.9 L324.4,919.2 L325.4,919.6 L326.4,920.0 L327.4,920.4 L328.4,920.8 L329.4,921.3 L330.4,921.7 L331.4,922.2 L332.4,922.6 L333.4,923.1 L334.4,923.6 L335.4,924.1 L336.4,924.5 L337.4,925.0 L338.4,925.5 L339.4,926.0 L340.4,926.4 L341.4,926.9 L342.4,927.3 L343.4,927.8 L344.4,928.2 L345.4,928.7 L346.4,929.1 L347.4,929.5 L348.4,929.9 L349.4,930.3 L350.4,930.7 L351.4,931.0 L352.4,931.4 L353.4,931.7 L354.4,932.1 L355.4,932.4 L356.4,932.7 L357.4,933.0 L358.4,933.2 L359.4,933.5 L360.4,933.8 L361.4,934.0 L362.4,934.2 L363.4,934.4 L364.4,934.6 L365.4,934.8 L366.4,935.0 L367.4,935.2 L368.4,935.3 L369.4,935.5 L370.4,935.6 L371.4,935.8 L372.4,935.9 L373.4,936.0 L374.4,936.1 L375.4,936.2 L376.4,936.3 L377.4,936.4 L378.4,936.5 L379.4,936.5 L380.4,936.6 L381.4,936.7 L382.4,936.8 L383.4,936.8 L384.4,936.9 L385.4,936.9 L386.4,937.0 L387.4,937.0 L388.4,937.1 L389.4,937.1 L390.4,937.1 L391.4,937.2 L392.4,937.2 L393.4,937.2 L394.4,937.3 L395.4,937.3 L396.4,937.3 L397.4,937.4 L398.4,937.4 L399.4,937.4 L400.4,937.5 L401.4,937.5 L402.4,937.5 L403.4,937.5 L404.4,937.5 L405.4,937.6 L406.4,937.6 L407.4,937.6 L408.4,937.6 L409.4,937.6 L410.4,937.7 L411.4,937.7 L412.4,937.7 L413.4,937.7 L414.4,937.7 L415.4,937.7 L416.4,937.8 L417.4,937.8 L418.4,937.8 L419.4,937.8 L420.4,937.8 L421.4,937.8 L422.4,937.8 L423.4,937.8 L424.4,937.8 L425.4,937.8 L426.4,937.8 L427.4,937.8 L428.4,937.9 L429.4,937.9 L430.4,937.9 L431.4,937.9 L432.4,937.9 L433.4,937.9 L434.4,937.9 L435.4,937.9 L436.4,937.9 L437.4,937.9 L438.4,937.9 L439.4,937.9 L440.4,937.9 L441.4,937.9 L442.4,937.9 L443.4,937.9 L444.4,937.9 L445.4,937.9 L446.4,937.9 L447.4,937.9 L448.4,937.9 L449.4,937.9 L450.4,937.9 L451.4,937.9 L452.4,937.9 L453.4,937.9 L454.4,937.9 L455.4,937.9 L456.4,937.9 L457.4,937.9 L458.4,937.9 L459.4,937.9 L459.5,937.9" fill="none" stroke="#22bcd0" stroke-width="2.1"/>
</g>
<g fill="#000">
<rect x="2" y="0" width="651.5" height="2.5"/>
<rect x="2" y="0" width="2.6" height="960.5"/>
<rect x="650.9" y="0" width="2.6" height="960.5"/>
<rect x="2" y="958" width="651.5" height="2.6"/>
<rect x="18.2" y="947.2" width="2.4" height="11.5"/>
<rect x="50.6" y="953.3" width="2.3" height="5.5"/>
<rect x="83.0" y="947.2" width="2.4" height="11.5"/>
<rect x="115.5" y="953.3" width="2.3" height="5.5"/>
<rect x="147.9" y="947.2" width="2.4" height="11.5"/>
<rect x="180.4" y="953.3" width="2.3" height="5.5"/>
<rect x="212.8" y="947.2" width="2.4" height="11.5"/>
<rect x="245.3" y="953.3" width="2.3" height="5.5"/>
<rect x="277.7" y="947.2" width="2.4" height="11.5"/>
<rect x="310.2" y="953.3" width="2.3" height="5.5"/>
<rect x="342.6" y="947.2" width="2.4" height="11.5"/>
<rect x="375.0" y="953.3" width="2.3" height="5.5"/>
<rect x="407.4" y="947.2" width="2.4" height="11.5"/>
<rect x="439.9" y="953.3" width="2.3" height="5.5"/>
<rect x="472.3" y="947.2" width="2.4" height="11.5"/>
<rect x="504.8" y="953.3" width="2.3" height="5.5"/>
<rect x="537.2" y="947.2" width="2.4" height="11.5"/>
<rect x="569.7" y="953.3" width="2.3" height="5.5"/>
<rect x="602.1" y="947.2" width="2.4" height="11.5"/>
<rect x="634.6" y="953.3" width="2.3" height="5.5"/>
<rect x="1.5" y="239.6" width="3.7" height="1.2" opacity="0.55"/>
<rect x="1.5" y="479.6" width="3.7" height="1.2" opacity="0.55"/>
<rect x="1.5" y="719.0" width="3.7" height="1.2" opacity="0.55"/>
</g>
<g font-size="25" text-anchor="middle" letter-spacing="1.2">
<text x="20.2" y="992">542</text>
<text x="85.0" y="992">540</text>
<text x="149.9" y="992">538</text>
<text x="214.8" y="992">536</text>
<text x="279.7" y="992">534</text>
<text x="344.6" y="992">532</text>
<text x="409.4" y="992">530</text>
<text x="474.3" y="992">528</text>
<text x="539.2" y="992">526</text>
<text x="604.1" y="992">524</text>
</g>
<text x="327.6" y="1042.5" font-size="32" letter-spacing="0.6" text-anchor="middle">Binding energy (eV)</text>
<text x="16.7" y="53.6" font-size="48" font-style="italic">O 1s</text>
<rect x="435.3" y="7.6" width="211.7" height="36.3" fill="#fff" stroke="#222" stroke-width="1.2"/>
<text x="439.4" y="34.2" font-size="25.6" letter-spacing="0.73">Poly [VIMC4][Br]</text>
<rect x="433.5" y="244.3" width="212.4" height="36.3" fill="#fff" stroke="#222" stroke-width="1.2"/>
<text x="437.6" y="270.9" font-size="25.6" letter-spacing="0.73">Poly [VIMC2][Br]</text>
<rect x="430.3" y="486.3" width="215.6" height="36.3" fill="#fff" stroke="#222" stroke-width="1.2"/>
<text x="434.9" y="512.9" font-size="25.6" letter-spacing="0.73">Poly [VIMC4][Im]</text>
<rect x="573.9" y="725.9" width="72.4" height="36.3" fill="#fff" stroke="#222" stroke-width="1.2"/>
<text x="578.3" y="752.5" font-size="25.6" letter-spacing="0.80">Blank</text>
<text x="259.9" y="57.9" font-size="19.5" letter-spacing="0.8">531.68</text>
<line x1="317.7" y1="62.8" x2="344.2" y2="66.4" stroke="#000" stroke-width="1.1"/>
<path d="M0,0 L-15.5,3.9 L-11,0 L-15.5,-3.9 Z" transform="translate(352.1,67.5) rotate(7.8)"/>
<text x="240.0" y="128.1" font-size="19.5" letter-spacing="0.8">532.7</text>
<line x1="286.9" y1="134.1" x2="314.8" y2="161.6" stroke="#000" stroke-width="1.1"/>
<path d="M0,0 L-15.5,3.9 L-11,0 L-15.5,-3.9 Z" transform="translate(320.5,167.2) rotate(44.6)"/>
<text x="494.2" y="111.0" font-size="19.5" letter-spacing="0.8">530.12</text>
<line x1="494.6" y1="91.1" x2="415.3" y2="59.1" stroke="#000" stroke-width="1.1"/>
<path d="M0,0 L-15.5,3.9 L-11,0 L-15.5,-3.9 Z" transform="translate(407.9,56.1) rotate(-158.0)"/>
<text x="257.2" y="294.8" font-size="19.5" letter-spacing="0.8">531.68</text>
<line x1="315.1" y1="298.9" x2="340.7" y2="303.6" stroke="#000" stroke-width="1.1"/>
<path d="M0,0 L-15.5,3.9 L-11,0 L-15.5,-3.9 Z" transform="translate(348.6,305.0) rotate(10.3)"/>
<text x="214.7" y="387.0" font-size="19.5" letter-spacing="0.8">532.88</text>
<line x1="272.9" y1="390.3" x2="305.8" y2="422.7" stroke="#000" stroke-width="1.1"/>
<path d="M0,0 L-15.5,3.9 L-11,0 L-15.5,-3.9 Z" transform="translate(311.5,428.3) rotate(44.6)"/>
<text x="498.1" y="335.8" font-size="19.5" letter-spacing="0.8">530.18</text>
<line x1="497.0" y1="340.7" x2="415.6" y2="381.0" stroke="#000" stroke-width="1.1"/>
<path d="M0,0 L-15.5,3.9 L-11,0 L-15.5,-3.9 Z" transform="translate(408.4,384.5) rotate(153.7)"/>
<text x="246.7" y="518.1" font-size="19.5" letter-spacing="0.8">531.86</text>
<line x1="304.6" y1="511.5" x2="332.5" y2="516.9" stroke="#000" stroke-width="1.1"/>
<path d="M0,0 L-15.5,3.9 L-11,0 L-15.5,-3.9 Z" transform="translate(340.4,518.4) rotate(10.9)"/>
<text x="259.6" y="602.9" font-size="19.5" letter-spacing="0.8">533.12</text>
<line x1="288.9" y1="607.8" x2="300.0" y2="633.5" stroke="#000" stroke-width="1.1"/>
<path d="M0,0 L-15.5,3.9 L-11,0 L-15.5,-3.9 Z" transform="translate(303.2,640.8) rotate(66.6)"/>
<text x="477.9" y="581.3" font-size="19.5" letter-spacing="0.8">530.3</text>
<line x1="477.7" y1="586.8" x2="411.5" y2="617.3" stroke="#000" stroke-width="1.1"/>
<path d="M0,0 L-15.5,3.9 L-11,0 L-15.5,-3.9 Z" transform="translate(404.2,620.6) rotate(155.3)"/>
<text x="400.4" y="729.5" font-size="19.5" letter-spacing="0.8">531.87</text>
<line x1="400.2" y1="723.9" x2="360.0" y2="725.7" stroke="#000" stroke-width="1.1"/>
<path d="M0,0 L-15.5,3.9 L-11,0 L-15.5,-3.9 Z" transform="translate(352.0,726.1) rotate(177.4)"/>
<text x="434.8" y="837.6" font-size="19.5" letter-spacing="0.8">530.32</text>
<line x1="435.3" y1="842.9" x2="407.0" y2="888.9" stroke="#000" stroke-width="1.1"/>
<path d="M0,0 L-15.5,3.9 L-11,0 L-15.5,-3.9 Z" transform="translate(402.8,895.7) rotate(121.6)"/>
<text x="208.6" y="867.2" font-size="19.5" letter-spacing="0.8">533.03</text>
<line x1="265.6" y1="871.4" x2="300.7" y2="906.1" stroke="#000" stroke-width="1.1"/>
<path d="M0,0 L-15.5,3.9 L-11,0 L-15.5,-3.9 Z" transform="translate(306.4,911.7) rotate(44.6)"/>
<circle cx="44.5" cy="752.8" r="4"/>
<line x1="10" y1="788.5" x2="78" y2="788.5" stroke="#0000ff" stroke-width="2.6"/>
<line x1="10" y1="824.6" x2="78" y2="824.6" stroke="#00ff00" stroke-width="4.6"/>
<g font-size="28.7"><text x="85.7" y="761.7" letter-spacing="0.46">Experimental</text><text x="85.6" y="798.1" letter-spacing="0.3">Fit</text><text x="85.6" y="833.9" letter-spacing="0.62">Backgnd.</text></g>
</svg>
</body></html>
